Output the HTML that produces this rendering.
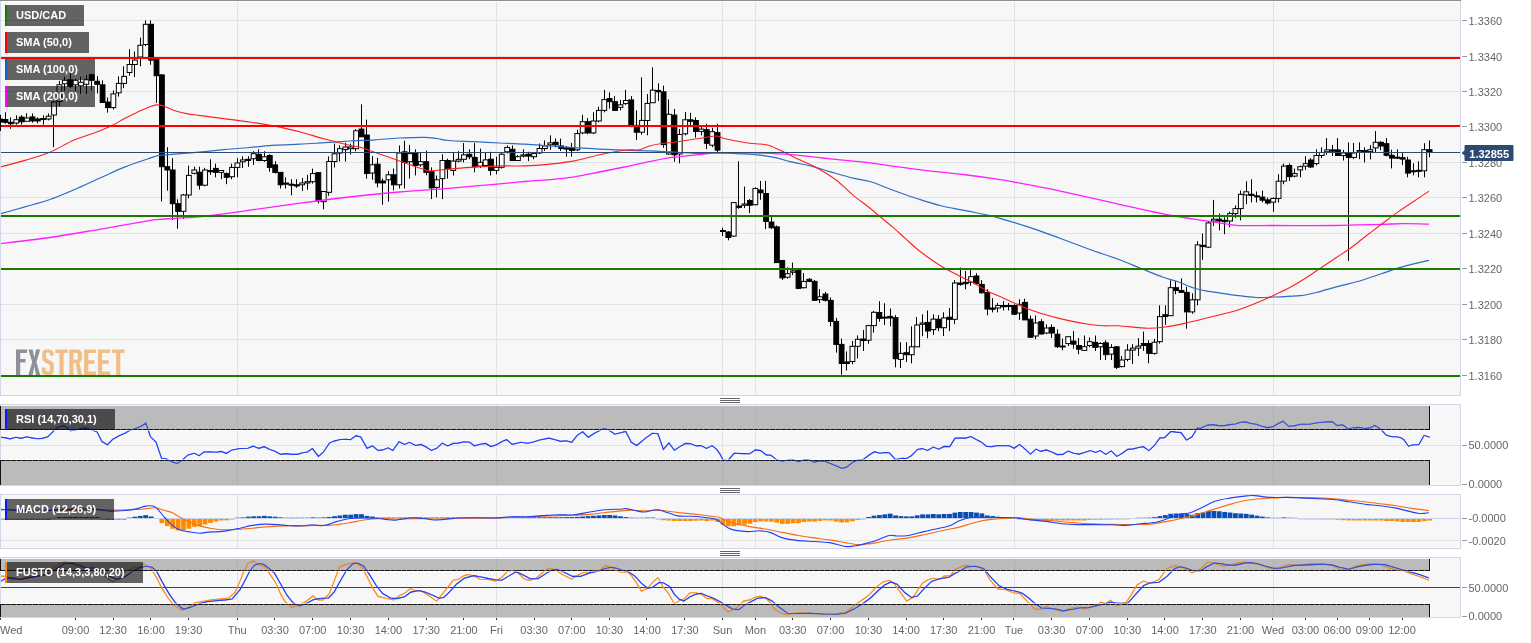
<!DOCTYPE html>
<html><head><meta charset="utf-8"><title>USD/CAD</title>
<style>
html,body{margin:0;padding:0;background:#fff;width:1531px;height:643px;overflow:hidden;}
svg{display:block;font-family:"Liberation Sans", sans-serif;will-change:transform;}
</style></head><body>
<svg width="1531" height="643" viewBox="0 0 1531 643">

<g shape-rendering="crispEdges">
<rect x="0" y="0" width="1460" height="395" fill="#f7f7f7"/>
<rect x="0" y="404" width="1460" height="81" fill="#f7f7f7"/>
<rect x="0" y="494" width="1460" height="54" fill="#f7f7f7"/>
<rect x="0" y="557" width="1460" height="60" fill="#f7f7f7"/>
<rect x="237" y="1" width="1" height="394" fill="#e2e2e2"/>
<rect x="496" y="1" width="1" height="394" fill="#e2e2e2"/>
<rect x="722" y="1" width="1" height="394" fill="#e2e2e2"/>
<rect x="755" y="1" width="1" height="394" fill="#e2e2e2"/>
<rect x="1014" y="1" width="1" height="394" fill="#e2e2e2"/>
<rect x="1273" y="1" width="1" height="394" fill="#e2e2e2"/>
<rect x="237" y="405" width="1" height="80" fill="#e2e2e2"/>
<rect x="496" y="405" width="1" height="80" fill="#e2e2e2"/>
<rect x="722" y="405" width="1" height="80" fill="#e2e2e2"/>
<rect x="755" y="405" width="1" height="80" fill="#e2e2e2"/>
<rect x="1014" y="405" width="1" height="80" fill="#e2e2e2"/>
<rect x="1273" y="405" width="1" height="80" fill="#e2e2e2"/>
<rect x="237" y="495" width="1" height="53" fill="#e2e2e2"/>
<rect x="496" y="495" width="1" height="53" fill="#e2e2e2"/>
<rect x="722" y="495" width="1" height="53" fill="#e2e2e2"/>
<rect x="755" y="495" width="1" height="53" fill="#e2e2e2"/>
<rect x="1014" y="495" width="1" height="53" fill="#e2e2e2"/>
<rect x="1273" y="495" width="1" height="53" fill="#e2e2e2"/>
<rect x="237" y="558" width="1" height="59" fill="#e2e2e2"/>
<rect x="496" y="558" width="1" height="59" fill="#e2e2e2"/>
<rect x="722" y="558" width="1" height="59" fill="#e2e2e2"/>
<rect x="755" y="558" width="1" height="59" fill="#e2e2e2"/>
<rect x="1014" y="558" width="1" height="59" fill="#e2e2e2"/>
<rect x="1273" y="558" width="1" height="59" fill="#e2e2e2"/>
<rect x="1" y="20" width="1459" height="1" fill="#e2e2e2"/>
<rect x="1462" y="20" width="5" height="1" fill="#999"/>
<text x="1468.5" y="24.5" font-size="11" fill="#666">1.3360</text>
<rect x="1" y="56" width="1459" height="1" fill="#e2e2e2"/>
<rect x="1462" y="56" width="5" height="1" fill="#999"/>
<text x="1468.5" y="60.5" font-size="11" fill="#666">1.3340</text>
<rect x="1" y="91" width="1459" height="1" fill="#e2e2e2"/>
<rect x="1462" y="91" width="5" height="1" fill="#999"/>
<text x="1468.5" y="95.5" font-size="11" fill="#666">1.3320</text>
<rect x="1" y="126" width="1459" height="1" fill="#e2e2e2"/>
<rect x="1462" y="126" width="5" height="1" fill="#999"/>
<text x="1468.5" y="130.5" font-size="11" fill="#666">1.3300</text>
<rect x="1" y="162" width="1459" height="1" fill="#e2e2e2"/>
<rect x="1462" y="162" width="5" height="1" fill="#999"/>
<text x="1468.5" y="166.5" font-size="11" fill="#666">1.3280</text>
<rect x="1" y="197" width="1459" height="1" fill="#e2e2e2"/>
<rect x="1462" y="197" width="5" height="1" fill="#999"/>
<text x="1468.5" y="201.5" font-size="11" fill="#666">1.3260</text>
<rect x="1" y="233" width="1459" height="1" fill="#e2e2e2"/>
<rect x="1462" y="233" width="5" height="1" fill="#999"/>
<text x="1468.5" y="237.5" font-size="11" fill="#666">1.3240</text>
<rect x="1" y="268" width="1459" height="1" fill="#e2e2e2"/>
<rect x="1462" y="268" width="5" height="1" fill="#999"/>
<text x="1468.5" y="272.5" font-size="11" fill="#666">1.3220</text>
<rect x="1" y="304" width="1459" height="1" fill="#e2e2e2"/>
<rect x="1462" y="304" width="5" height="1" fill="#999"/>
<text x="1468.5" y="308.5" font-size="11" fill="#666">1.3200</text>
<rect x="1" y="339" width="1459" height="1" fill="#e2e2e2"/>
<rect x="1462" y="339" width="5" height="1" fill="#999"/>
<text x="1468.5" y="343.5" font-size="11" fill="#666">1.3180</text>
<rect x="1" y="375" width="1459" height="1" fill="#e2e2e2"/>
<rect x="1462" y="375" width="5" height="1" fill="#999"/>
<text x="1468.5" y="379.5" font-size="11" fill="#666">1.3160</text>
<rect x="1" y="445" width="1459" height="1" fill="#e2e2e2"/>
<rect x="1" y="518" width="1459" height="1" fill="#c8d4e4"/>
<rect x="1" y="540" width="1459" height="1" fill="#e2e2e2"/>
<rect x="1462" y="445" width="5" height="1" fill="#999"/>
<text x="1468.5" y="448.5" font-size="11" fill="#666">50.0000</text>
<rect x="1462" y="484" width="5" height="1" fill="#999"/>
<text x="1468.5" y="487.5" font-size="11" fill="#666">0.0000</text>
<rect x="1462" y="518" width="5" height="1" fill="#999"/>
<text x="1468.5" y="521.5" font-size="11" fill="#666">-0.0000</text>
<rect x="1462" y="540" width="5" height="1" fill="#999"/>
<text x="1468.5" y="544.5" font-size="11" fill="#666">-0.0020</text>
<rect x="1462" y="587" width="5" height="1" fill="#999"/>
<text x="1468.5" y="591.5" font-size="11" fill="#666">50.0000</text>
<rect x="1462" y="616" width="5" height="1" fill="#999"/>
<text x="1468.5" y="619.5" font-size="11" fill="#666">0.0000</text>
</g>
<path d="M-0.5 115.0V130.0M5.5 112.2V123.7M10.5 117.4V128.8M16.5 115.3V124.6M21.5 115.3V124.6M26.5 113.2V121.3M32.5 113.4V122.7M37.5 117.4V123.4M43.5 115.3V124.6M48.5 113.4V120.4M53.5 101.0V147.2M59.5 80.8V106.0M64.5 76.7V90.9M70.5 73.2V87.9M75.5 78.8V91.4M80.5 76.7V93.9M86.5 75.2V93.9M91.5 74.2V90.4M97.5 76.2V93.4M102.5 80.3V102.5M107.5 97.5V112.6M113.5 90.4V109.6M118.5 76.4V96.6M123.5 66.3V88.1M129.5 49.2V75.7M134.5 51.5V77.2M140.5 37.6V66.3M145.5 20.4V46.1M150.5 20.4V64.8M156.5 59.3V102.9M161.5 74.1V201.5M167.5 147.2V190.7M172.5 158.0V220.0M177.5 199.3V228.7M183.5 193.9V218.9M188.5 165.7V198.3M194.5 166.7V174.3M199.5 166.7V189.6M204.5 167.8V186.3M210.5 159.3V174.8M215.5 163.6V177.3M221.5 170.5V179.2M226.5 172.4V184.2M231.5 163.6V179.2M237.5 158.0V177.3M242.5 156.2V168.0M248.5 156.2V166.8M253.5 151.2V164.9M258.5 149.3V161.2M264.5 151.2V161.8M269.5 154.3V171.7M275.5 161.2V173.6M280.5 172.4V188.5M285.5 177.3V188.5M291.5 179.2V195.4M296.5 179.2V187.9M302.5 178.0V191.0M307.5 174.8V189.8M312.5 168.6V183.6M318.5 172.4V203.4M323.5 191.5V209.4M328.5 156.4V195.7M334.5 143.6V167.5M339.5 145.3V161.5M345.5 142.7V161.5M350.5 143.6V154.7M355.5 129.1V151.3M361.5 104.3V136.8M366.5 119.7V178.6M372.5 156.1V179.8M377.5 158.0V187.3M382.5 178.5V204.7M388.5 171.1V201.6M393.5 168.6V190.4M399.5 145.5V188.5M404.5 140.6V188.5M409.5 144.9V178.5M415.5 149.3V175.4M420.5 153.0V166.7M426.5 150.5V175.4M431.5 167.4V199.1M436.5 175.5V197.2M442.5 154.3V199.1M447.5 158.6V178.6M453.5 153.0V175.5M458.5 151.2V162.4M463.5 143.1V162.4M469.5 149.3V159.3M474.5 143.1V172.3M480.5 148.6V168.0M485.5 153.0V166.1M490.5 151.8V175.4M496.5 156.7V174.2M501.5 152.4V168.6M507.5 145.5V153.6M512.5 145.5V161.1M517.5 155.0V161.0M523.5 149.3V157.4M528.5 151.8V161.1M533.5 152.4V159.2M539.5 143.5V154.1M544.5 140.4V151.0M550.5 135.4V149.8M555.5 138.5V147.3M560.5 138.5V151.0M566.5 146.0V156.6M571.5 142.9V156.6M577.5 129.8V151.0M582.5 114.9V134.2M587.5 118.0V134.2M593.5 112.3V134.1M598.5 106.7V122.3M604.5 89.9V112.3M609.5 92.4V108.6M614.5 96.1V110.4M620.5 99.9V110.4M625.5 89.9V104.8M631.5 96.1V127.2M636.5 110.4V140.0M641.5 77.4V134.7M647.5 94.1V135.3M652.5 67.4V102.7M658.5 83.3V101.1M663.5 85.6V147.8M668.5 99.5V154.8M674.5 108.9V161.8M679.5 129.1V163.3M685.5 112.0V135.3M690.5 112.8V126.0M695.5 117.4V137.6M701.5 125.2V135.3M706.5 123.9V149.1M712.5 127.8V147.2M717.5 123.9V152.0M722.5 227.7V236.1M728.5 231.2V240.3M733.5 202.6V236.8M738.5 161.3V208.8M744.5 186.5V208.1M749.5 199.1V213.0M755.5 187.2V205.3M760.5 180.9V199.8M765.5 180.9V229.1M771.5 215.1V229.1M776.5 225.5V262.6M782.5 259.8V280.0M787.5 267.4V278.6M792.5 262.6V275.1M798.5 268.1V289.1M803.5 273.0V288.4M809.5 278.0V282.1M814.5 280.0V301.0M819.5 289.1V303.1M825.5 291.9V301.7M830.5 297.6V326.3M836.5 317.9V352.6M841.5 338.6V374.7M846.5 351.4V370.5M852.5 340.9V364.2M857.5 335.4V358.4M863.5 330.0V351.0M868.5 324.9V343.7M873.5 310.9V332.6M879.5 301.2V321.7M884.5 303.2V325.0M890.5 308.5V326.3M895.5 315.1V367.3M900.5 342.2V368.0M906.5 342.2V362.0M911.5 326.3V363.3M916.5 317.1V346.8M922.5 314.4V336.2M927.5 310.5V338.2M933.5 314.4V334.9M938.5 315.1V331.2M943.5 312.3V336.1M949.5 308.1V331.2M954.5 280.2V324.2M960.5 267.6V285.8M965.5 271.1V289.3M970.5 269.0V285.8M976.5 273.2V284.4M981.5 280.2V293.5M987.5 289.3V315.3M992.5 298.1V312.4M997.5 303.0V312.4M1003.5 301.2V310.5M1008.5 303.0V310.5M1014.5 304.3V314.9M1019.5 299.3V319.9M1024.5 298.7V319.9M1030.5 315.5V337.3M1035.5 315.5V339.2M1041.5 319.2V334.5M1046.5 324.3V334.2M1051.5 324.3V338.0M1057.5 329.3V348.0M1062.5 338.6V350.4M1068.5 336.7V346.0M1073.5 331.1V348.6M1078.5 338.0V354.2M1084.5 335.5V351.0M1089.5 337.4V347.3M1095.5 335.5V351.0M1100.5 342.2V360.0M1105.5 340.2V360.0M1111.5 344.2V360.0M1116.5 346.1V369.0M1121.5 356.0V367.3M1127.5 344.2V361.3M1132.5 344.2V364.0M1138.5 338.2V356.0M1143.5 331.6V350.8M1148.5 340.2V363.3M1154.5 338.9V354.7M1159.5 305.4V343.6M1165.5 305.4V325.0M1170.5 280.3V315.7M1175.5 281.2V294.2M1181.5 278.4V292.4M1186.5 286.8V328.7M1192.5 293.3V313.8M1197.5 241.2V305.4M1202.5 233.5V259.8M1208.5 221.0V247.8M1213.5 199.9V226.0M1219.5 213.6V230.4M1224.5 217.3V234.1M1229.5 211.7V227.3M1235.5 205.5V217.9M1240.5 190.5V220.4M1246.5 181.2V204.2M1251.5 179.3V202.4M1256.5 191.5V202.4M1262.5 190.6V202.4M1267.5 197.4V204.6M1273.5 197.4V211.7M1278.5 174.2V202.4M1283.5 163.6V184.2M1289.5 163.6V181.1M1294.5 168.6V177.3M1300.5 165.5V177.3M1305.5 156.2V169.9M1310.5 158.0V168.0M1316.5 149.3V165.5M1321.5 147.4V158.0M1326.5 138.1V154.9M1332.5 144.9V156.1M1337.5 138.1V155.5M1343.5 149.9V160.5M1348.5 142.4V260.9M1353.5 143.0V159.2M1359.5 142.4V159.2M1364.5 147.4V162.4M1370.5 145.1V159.5M1375.5 131.1V152.1M1380.5 141.3V150.2M1386.5 138.1V156.3M1391.5 149.7V168.4M1397.5 149.3V159.1M1402.5 153.0V165.1M1407.5 156.7V177.3M1413.5 163.3V175.4M1418.5 161.4V177.3M1424.5 143.2V177.3M1429.5 140.4V157.2" stroke="#000" stroke-width="1" fill="none"/>
<g fill="#000" stroke="#000" stroke-width="1"><rect x="-2.34" y="119.0" width="4.8" height="3.0"/><rect x="3.06" y="119.5" width="4.8" height="2.8"/><rect x="8.45" y="122.3" width="4.8" height="1.4"/><rect x="19.24" y="117.1" width="4.8" height="4.7"/><rect x="30.03" y="116.9" width="4.8" height="4.0"/><rect x="35.43" y="119.0" width="4.8" height="1.9"/><rect x="40.82" y="118.5" width="4.8" height="1.0"/><rect x="67.79" y="79.8" width="4.8" height="6.5"/><rect x="89.37" y="74.7" width="4.8" height="5.6"/><rect x="94.77" y="81.3" width="4.8" height="3.0"/><rect x="100.16" y="84.8" width="4.8" height="17.7"/><rect x="105.56" y="102.0" width="4.8" height="5.6"/><rect x="148.71" y="24.3" width="4.8" height="35.8"/><rect x="154.11" y="59.3" width="4.8" height="16.4"/><rect x="159.50" y="74.9" width="4.8" height="91.8"/><rect x="164.90" y="166.7" width="4.8" height="3.3"/><rect x="170.29" y="170.0" width="4.8" height="33.7"/><rect x="175.69" y="203.7" width="4.8" height="7.6"/><rect x="197.26" y="172.2" width="4.8" height="13.0"/><rect x="208.05" y="170.5" width="4.8" height="1.2"/><rect x="213.45" y="168.4" width="4.8" height="4.0"/><rect x="224.24" y="173.6" width="4.8" height="3.7"/><rect x="245.82" y="159.3" width="4.8" height="1.2"/><rect x="256.61" y="154.3" width="4.8" height="6.2"/><rect x="267.39" y="155.5" width="4.8" height="11.9"/><rect x="272.79" y="164.9" width="4.8" height="7.5"/><rect x="278.18" y="172.4" width="4.8" height="12.4"/><rect x="283.58" y="183.0" width="4.8" height="1.2"/><rect x="288.97" y="184.2" width="4.8" height="1.0"/><rect x="294.37" y="184.8" width="4.8" height="1.2"/><rect x="315.95" y="172.6" width="4.8" height="28.3"/><rect x="359.10" y="129.1" width="4.8" height="7.7"/><rect x="364.50" y="135.0" width="4.8" height="38.5"/><rect x="375.29" y="164.2" width="4.8" height="18.7"/><rect x="380.68" y="181.0" width="4.8" height="1.9"/><rect x="391.47" y="174.8" width="4.8" height="10.0"/><rect x="402.26" y="151.8" width="4.8" height="10.6"/><rect x="413.05" y="153.0" width="4.8" height="12.5"/><rect x="423.84" y="161.7" width="4.8" height="10.6"/><rect x="429.23" y="171.7" width="4.8" height="16.2"/><rect x="445.42" y="160.5" width="4.8" height="8.1"/><rect x="466.99" y="154.3" width="4.8" height="2.5"/><rect x="472.39" y="157.4" width="4.8" height="9.3"/><rect x="488.57" y="159.2" width="4.8" height="11.2"/><rect x="510.15" y="149.3" width="4.8" height="11.2"/><rect x="526.34" y="154.2" width="4.8" height="1.9"/><rect x="553.31" y="142.3" width="4.8" height="2.5"/><rect x="558.70" y="146.0" width="4.8" height="2.5"/><rect x="564.10" y="147.9" width="4.8" height="1.2"/><rect x="569.49" y="148.5" width="4.8" height="1.9"/><rect x="585.68" y="121.7" width="4.8" height="11.2"/><rect x="607.25" y="98.6" width="4.8" height="3.1"/><rect x="612.65" y="101.7" width="4.8" height="8.7"/><rect x="628.83" y="99.9" width="4.8" height="24.9"/><rect x="634.23" y="125.4" width="4.8" height="6.8"/><rect x="655.81" y="90.4" width="4.8" height="1.4"/><rect x="661.20" y="91.8" width="4.8" height="52.8"/><rect x="671.99" y="115.1" width="4.8" height="39.7"/><rect x="688.17" y="119.8" width="4.8" height="1.5"/><rect x="693.57" y="120.5" width="4.8" height="10.9"/><rect x="704.36" y="129.7" width="4.8" height="13.6"/><rect x="715.15" y="132.6" width="4.8" height="17.5"/><rect x="720.54" y="230.5" width="4.8" height="1.0"/><rect x="725.94" y="232.0" width="4.8" height="5.5"/><rect x="736.72" y="206.0" width="4.8" height="1.4"/><rect x="747.51" y="200.5" width="4.8" height="4.8"/><rect x="758.30" y="190.0" width="4.8" height="2.8"/><rect x="763.70" y="193.5" width="4.8" height="27.9"/><rect x="769.09" y="222.1" width="4.8" height="5.6"/><rect x="774.49" y="226.9" width="4.8" height="35.7"/><rect x="779.88" y="260.5" width="4.8" height="17.4"/><rect x="796.07" y="270.2" width="4.8" height="18.2"/><rect x="806.85" y="279.3" width="4.8" height="2.1"/><rect x="812.25" y="281.4" width="4.8" height="18.9"/><rect x="823.04" y="294.0" width="4.8" height="6.3"/><rect x="828.43" y="300.4" width="4.8" height="21.0"/><rect x="833.83" y="321.4" width="4.8" height="23.0"/><rect x="839.22" y="344.4" width="4.8" height="19.1"/><rect x="844.62" y="361.9" width="4.8" height="1.6"/><rect x="860.80" y="339.0" width="4.8" height="1.5"/><rect x="876.98" y="312.5" width="4.8" height="5.9"/><rect x="882.38" y="317.1" width="4.8" height="1.0"/><rect x="887.77" y="316.4" width="4.8" height="1.6"/><rect x="893.17" y="317.7" width="4.8" height="41.0"/><rect x="903.96" y="352.7" width="4.8" height="2.0"/><rect x="925.54" y="322.4" width="4.8" height="8.6"/><rect x="936.32" y="319.3" width="4.8" height="8.4"/><rect x="947.11" y="317.2" width="4.8" height="2.1"/><rect x="957.90" y="283.0" width="4.8" height="1.4"/><rect x="963.30" y="282.3" width="4.8" height="1.4"/><rect x="974.09" y="276.0" width="4.8" height="7.7"/><rect x="979.48" y="284.4" width="4.8" height="8.4"/><rect x="984.88" y="292.6" width="4.8" height="16.4"/><rect x="990.27" y="308.0" width="4.8" height="1.3"/><rect x="1001.06" y="305.5" width="4.8" height="1.3"/><rect x="1006.45" y="305.5" width="4.8" height="1.0"/><rect x="1011.85" y="305.5" width="4.8" height="8.7"/><rect x="1022.64" y="302.4" width="4.8" height="17.5"/><rect x="1028.03" y="319.2" width="4.8" height="18.1"/><rect x="1038.82" y="321.7" width="4.8" height="12.3"/><rect x="1049.61" y="327.4" width="4.8" height="5.6"/><rect x="1055.01" y="334.2" width="4.8" height="12.5"/><rect x="1060.40" y="346.0" width="4.8" height="1.0"/><rect x="1071.19" y="341.1" width="4.8" height="3.1"/><rect x="1076.58" y="345.5" width="4.8" height="3.7"/><rect x="1092.77" y="342.3" width="4.8" height="5.0"/><rect x="1103.56" y="342.8" width="4.8" height="11.9"/><rect x="1114.35" y="346.8" width="4.8" height="20.5"/><rect x="1141.32" y="343.5" width="4.8" height="2.0"/><rect x="1146.71" y="343.5" width="4.8" height="9.9"/><rect x="1162.90" y="314.7" width="4.8" height="1.9"/><rect x="1173.69" y="287.7" width="4.8" height="2.8"/><rect x="1179.08" y="290.5" width="4.8" height="1.9"/><rect x="1184.48" y="292.4" width="4.8" height="19.5"/><rect x="1200.66" y="245.3" width="4.8" height="1.3"/><rect x="1216.84" y="219.2" width="4.8" height="1.8"/><rect x="1222.24" y="220.4" width="4.8" height="1.3"/><rect x="1249.21" y="194.3" width="4.8" height="1.2"/><rect x="1254.61" y="195.9" width="4.8" height="1.0"/><rect x="1260.00" y="197.1" width="4.8" height="3.1"/><rect x="1265.40" y="199.9" width="4.8" height="3.1"/><rect x="1286.97" y="165.5" width="4.8" height="11.2"/><rect x="1308.55" y="160.0" width="4.8" height="7.0"/><rect x="1330.13" y="149.9" width="4.8" height="1.3"/><rect x="1335.53" y="149.9" width="4.8" height="5.6"/><rect x="1346.31" y="153.6" width="4.8" height="3.8"/><rect x="1362.50" y="150.5" width="4.8" height="1.3"/><rect x="1378.68" y="142.3" width="4.8" height="3.7"/><rect x="1384.08" y="143.7" width="4.8" height="11.6"/><rect x="1389.47" y="155.3" width="4.8" height="2.8"/><rect x="1394.87" y="157.2" width="4.8" height="1.0"/><rect x="1400.26" y="157.7" width="4.8" height="1.4"/><rect x="1405.65" y="160.0" width="4.8" height="13.1"/><rect x="1411.05" y="170.8" width="4.8" height="1.0"/><rect x="1416.44" y="170.3" width="4.8" height="1.0"/><rect x="1427.23" y="149.7" width="4.8" height="1.9"/></g>
<g fill="#fff" stroke="#000" stroke-width="1"><rect x="13.85" y="119.7" width="4.8" height="3.3"/><rect x="24.64" y="118.0" width="4.8" height="3.3"/><rect x="46.22" y="116.2" width="4.8" height="2.8"/><rect x="51.61" y="102.0" width="4.8" height="13.0"/><rect x="57.01" y="84.8" width="4.8" height="16.7"/><rect x="62.40" y="80.3" width="4.8" height="3.5"/><rect x="73.19" y="80.3" width="4.8" height="4.5"/><rect x="78.58" y="82.3" width="4.8" height="3.5"/><rect x="83.98" y="79.8" width="4.8" height="4.5"/><rect x="110.95" y="93.9" width="4.8" height="13.7"/><rect x="116.35" y="83.4" width="4.8" height="9.4"/><rect x="121.74" y="76.4" width="4.8" height="7.0"/><rect x="127.13" y="64.5" width="4.8" height="8.0"/><rect x="132.53" y="60.1" width="4.8" height="4.4"/><rect x="137.92" y="45.3" width="4.8" height="11.7"/><rect x="143.32" y="24.3" width="4.8" height="20.2"/><rect x="181.08" y="195.0" width="4.8" height="16.3"/><rect x="186.48" y="175.4" width="4.8" height="19.6"/><rect x="191.87" y="170.0" width="4.8" height="3.3"/><rect x="202.66" y="170.0" width="4.8" height="15.2"/><rect x="218.84" y="170.5" width="4.8" height="1.9"/><rect x="229.63" y="167.4" width="4.8" height="9.3"/><rect x="235.03" y="163.0" width="4.8" height="4.4"/><rect x="240.42" y="159.9" width="4.8" height="1.9"/><rect x="251.21" y="153.7" width="4.8" height="5.0"/><rect x="262.00" y="156.8" width="4.8" height="3.7"/><rect x="299.76" y="183.0" width="4.8" height="1.8"/><rect x="305.16" y="181.7" width="4.8" height="1.3"/><rect x="310.55" y="173.6" width="4.8" height="8.1"/><rect x="321.34" y="191.5" width="4.8" height="10.2"/><rect x="326.74" y="161.5" width="4.8" height="30.8"/><rect x="332.13" y="153.8" width="4.8" height="7.7"/><rect x="337.52" y="148.7" width="4.8" height="4.3"/><rect x="342.92" y="147.0" width="4.8" height="2.6"/><rect x="348.31" y="147.0" width="4.8" height="1.7"/><rect x="353.71" y="130.8" width="4.8" height="17.9"/><rect x="369.89" y="164.8" width="4.8" height="8.2"/><rect x="386.08" y="174.8" width="4.8" height="5.0"/><rect x="396.86" y="153.0" width="4.8" height="31.8"/><rect x="407.65" y="153.6" width="4.8" height="8.1"/><rect x="418.44" y="161.7" width="4.8" height="3.1"/><rect x="434.63" y="179.8" width="4.8" height="7.5"/><rect x="440.02" y="160.5" width="4.8" height="18.1"/><rect x="450.81" y="161.1" width="4.8" height="9.4"/><rect x="456.21" y="159.3" width="4.8" height="1.8"/><rect x="461.60" y="154.9" width="4.8" height="4.4"/><rect x="477.78" y="162.3" width="4.8" height="3.8"/><rect x="483.18" y="159.9" width="4.8" height="5.6"/><rect x="493.97" y="167.3" width="4.8" height="3.1"/><rect x="499.36" y="154.2" width="4.8" height="13.1"/><rect x="504.76" y="147.4" width="4.8" height="4.4"/><rect x="515.55" y="156.7" width="4.8" height="3.8"/><rect x="520.94" y="154.9" width="4.8" height="1.2"/><rect x="531.73" y="153.6" width="4.8" height="3.1"/><rect x="537.12" y="148.5" width="4.8" height="4.4"/><rect x="542.52" y="146.0" width="4.8" height="2.5"/><rect x="547.91" y="142.9" width="4.8" height="1.9"/><rect x="574.89" y="133.6" width="4.8" height="16.2"/><rect x="580.28" y="121.7" width="4.8" height="11.2"/><rect x="591.07" y="121.0" width="4.8" height="11.9"/><rect x="596.47" y="110.4" width="4.8" height="10.6"/><rect x="601.86" y="99.6" width="4.8" height="10.8"/><rect x="618.04" y="104.8" width="4.8" height="2.5"/><rect x="623.44" y="100.5" width="4.8" height="3.1"/><rect x="639.62" y="120.4" width="4.8" height="11.8"/><rect x="645.02" y="103.4" width="4.8" height="17.1"/><rect x="650.41" y="90.2" width="4.8" height="12.5"/><rect x="666.59" y="114.3" width="4.8" height="39.7"/><rect x="677.38" y="134.5" width="4.8" height="19.5"/><rect x="682.78" y="119.8" width="4.8" height="14.0"/><rect x="698.96" y="129.1" width="4.8" height="2.3"/><rect x="709.75" y="131.7" width="4.8" height="13.5"/><rect x="731.33" y="202.6" width="4.8" height="33.5"/><rect x="742.12" y="204.0" width="4.8" height="1.3"/><rect x="752.91" y="188.6" width="4.8" height="16.1"/><rect x="785.28" y="273.7" width="4.8" height="3.5"/><rect x="790.67" y="270.9" width="4.8" height="1.4"/><rect x="801.46" y="281.4" width="4.8" height="6.3"/><rect x="817.64" y="296.8" width="4.8" height="2.8"/><rect x="850.01" y="346.3" width="4.8" height="15.2"/><rect x="855.41" y="339.3" width="4.8" height="7.0"/><rect x="866.20" y="325.6" width="4.8" height="14.6"/><rect x="871.59" y="312.3" width="4.8" height="13.3"/><rect x="898.56" y="353.4" width="4.8" height="6.0"/><rect x="909.35" y="346.8" width="4.8" height="7.9"/><rect x="914.75" y="325.0" width="4.8" height="21.8"/><rect x="920.14" y="323.0" width="4.8" height="1.3"/><rect x="930.93" y="319.1" width="4.8" height="10.5"/><rect x="941.72" y="317.9" width="4.8" height="9.8"/><rect x="952.51" y="283.0" width="4.8" height="36.3"/><rect x="968.69" y="276.7" width="4.8" height="5.6"/><rect x="995.67" y="305.5" width="4.8" height="2.5"/><rect x="1017.24" y="304.3" width="4.8" height="8.7"/><rect x="1033.43" y="323.0" width="4.8" height="13.0"/><rect x="1044.22" y="328.0" width="4.8" height="5.0"/><rect x="1065.80" y="336.7" width="4.8" height="6.9"/><rect x="1081.98" y="346.7" width="4.8" height="3.7"/><rect x="1087.37" y="341.7" width="4.8" height="3.8"/><rect x="1098.16" y="343.5" width="4.8" height="3.3"/><rect x="1108.95" y="347.5" width="4.8" height="6.6"/><rect x="1119.74" y="360.0" width="4.8" height="6.6"/><rect x="1125.14" y="350.1" width="4.8" height="9.3"/><rect x="1130.53" y="348.1" width="4.8" height="2.0"/><rect x="1135.92" y="346.1" width="4.8" height="2.0"/><rect x="1152.11" y="342.2" width="4.8" height="11.2"/><rect x="1157.50" y="316.6" width="4.8" height="25.1"/><rect x="1168.29" y="287.7" width="4.8" height="28.0"/><rect x="1189.87" y="299.8" width="4.8" height="12.1"/><rect x="1195.27" y="244.9" width="4.8" height="54.9"/><rect x="1206.05" y="222.9" width="4.8" height="24.3"/><rect x="1211.45" y="219.2" width="4.8" height="1.8"/><rect x="1227.63" y="213.6" width="4.8" height="7.4"/><rect x="1233.03" y="208.6" width="4.8" height="5.0"/><rect x="1238.42" y="194.3" width="4.8" height="14.3"/><rect x="1243.82" y="191.8" width="4.8" height="3.1"/><rect x="1270.79" y="198.4" width="4.8" height="3.7"/><rect x="1276.18" y="181.2" width="4.8" height="17.2"/><rect x="1281.58" y="166.1" width="4.8" height="15.0"/><rect x="1292.37" y="173.6" width="4.8" height="2.5"/><rect x="1297.76" y="166.7" width="4.8" height="3.2"/><rect x="1303.16" y="163.6" width="4.8" height="2.5"/><rect x="1313.95" y="155.5" width="4.8" height="8.1"/><rect x="1319.34" y="152.4" width="4.8" height="3.1"/><rect x="1324.74" y="149.9" width="4.8" height="1.9"/><rect x="1340.92" y="153.0" width="4.8" height="2.5"/><rect x="1351.71" y="153.0" width="4.8" height="4.4"/><rect x="1357.10" y="150.5" width="4.8" height="1.3"/><rect x="1367.89" y="149.7" width="4.8" height="1.9"/><rect x="1373.29" y="142.3" width="4.8" height="5.6"/><rect x="1421.84" y="149.7" width="4.8" height="21.1"/></g>
<path d="M0.0 243.7C8.3 242.7 33.2 239.9 49.8 237.5C66.4 235.1 82.9 232.1 99.5 229.3C116.1 226.5 139.4 222.2 149.3 220.6C159.2 218.9 150.9 220.0 159.2 219.4C167.5 218.8 188.2 217.8 199.0 216.9C209.8 216.0 215.4 215.0 223.9 213.9C232.4 212.8 237.3 211.9 250.0 210.1C262.6 208.3 283.2 205.4 299.8 203.2C316.4 201.0 332.9 198.9 349.5 197.0C366.1 195.1 382.7 193.4 399.3 192.0C415.9 190.6 432.2 189.7 449.0 188.3C465.8 186.9 487.4 184.9 500.0 183.8C512.6 182.7 516.6 182.2 524.9 181.5C533.2 180.8 541.5 180.4 549.8 179.6C558.1 178.8 566.3 178.1 574.6 176.8C582.9 175.5 591.2 173.6 599.5 172.0C607.8 170.4 616.1 168.7 624.4 167.0C632.7 165.3 641.0 163.2 649.3 161.6C657.6 160.0 665.8 158.3 674.1 157.2C682.4 156.0 692.0 155.4 699.0 154.7C706.0 154.0 709.6 153.2 716.4 152.9C723.2 152.6 732.7 152.6 740.0 152.6C747.3 152.6 751.5 152.7 760.0 153.0C768.5 153.3 780.7 153.8 791.1 154.6C801.5 155.4 811.8 156.9 822.2 158.0C832.6 159.1 845.3 160.3 853.3 161.1C861.3 161.9 859.4 161.4 870.0 162.8C880.6 164.2 901.2 167.4 916.7 169.3C932.2 171.2 949.4 172.8 963.3 174.5C977.2 176.2 989.0 177.9 1000.0 179.6C1011.0 181.3 1019.6 183.0 1029.5 184.9C1039.3 186.8 1049.2 188.7 1059.1 190.8C1068.9 192.9 1078.8 195.1 1088.6 197.3C1098.4 199.5 1108.3 201.9 1118.2 204.1C1128.1 206.3 1137.9 208.5 1147.7 210.6C1157.5 212.7 1167.5 214.8 1177.3 216.5C1187.1 218.2 1197.0 219.4 1206.8 220.9C1216.6 222.4 1224.9 224.5 1236.3 225.3C1247.7 226.1 1258.8 225.5 1275.0 225.5C1291.2 225.5 1315.8 225.7 1333.3 225.5C1350.8 225.3 1368.3 224.7 1380.0 224.4C1391.7 224.1 1395.1 223.8 1403.3 223.7C1411.5 223.6 1424.7 224.0 1429.0 224.1" fill="none" stroke="#ff20ff" stroke-width="1.3"/>
<path d="M0.0 213.9C4.1 212.7 16.6 209.3 24.9 206.9C33.2 204.5 41.5 202.4 49.8 199.5C58.1 196.6 66.3 193.0 74.6 189.5C82.9 186.0 91.2 182.0 99.5 178.3C107.8 174.6 116.1 170.4 124.4 167.1C132.7 163.8 143.5 160.3 149.3 158.4C155.1 156.5 155.1 156.1 159.2 155.4C163.3 154.7 167.5 154.7 174.1 154.2C180.7 153.7 190.7 152.9 199.0 152.2C207.3 151.4 215.4 150.5 223.9 149.7C232.4 148.9 241.5 148.2 250.0 147.5C258.5 146.8 266.6 145.8 274.9 145.2C283.2 144.6 291.5 144.6 299.8 144.2C308.1 143.8 316.3 143.2 324.6 142.7C332.9 142.2 341.2 141.5 349.5 141.0C357.8 140.5 366.1 140.3 374.4 139.8C382.7 139.3 391.0 138.4 399.3 138.0C407.6 137.6 417.9 137.2 424.1 137.3C430.3 137.4 432.5 138.0 436.6 138.5C440.8 139.0 442.8 140.0 449.0 140.5C455.2 141.0 465.4 141.3 473.9 141.7C482.4 142.1 491.5 142.6 500.0 143.0C508.5 143.4 516.6 143.7 524.9 144.2C533.2 144.7 541.5 145.4 549.8 146.0C558.1 146.6 566.3 147.2 574.6 147.7C582.9 148.2 591.2 148.8 599.5 149.2C607.8 149.6 616.1 149.9 624.4 150.2C632.7 150.5 641.0 150.6 649.3 150.9C657.6 151.2 665.8 151.8 674.1 152.2C682.4 152.6 692.0 153.3 699.0 153.4C706.0 153.5 709.6 152.8 716.4 152.9C723.2 153.0 732.7 153.4 740.0 153.8C747.3 154.2 754.1 154.5 760.0 155.2C765.9 155.8 770.3 156.6 775.5 157.7C780.7 158.8 785.1 160.5 791.1 161.9C797.1 163.3 804.8 164.5 811.3 166.1C817.8 167.7 823.0 169.7 830.0 171.7C837.0 173.7 846.6 176.6 853.3 178.2C860.0 179.8 863.3 179.5 870.0 181.5C876.7 183.5 885.5 187.5 893.3 190.3C901.1 193.1 908.9 196.0 916.7 198.5C924.5 201.0 932.2 203.6 940.0 205.5C947.8 207.4 955.5 208.6 963.3 210.2C971.1 211.8 980.6 213.5 986.7 214.8C992.8 216.2 992.9 216.2 1000.0 218.3C1007.1 220.4 1019.6 224.1 1029.5 227.4C1039.3 230.7 1049.2 234.4 1059.1 238.0C1068.9 241.6 1078.8 245.4 1088.6 249.0C1098.4 252.6 1109.3 256.0 1118.2 259.3C1127.1 262.6 1134.4 265.9 1141.8 268.8C1149.2 271.8 1156.6 274.9 1162.5 277.0C1168.4 279.1 1172.4 279.8 1177.3 281.5C1182.2 283.2 1187.1 285.8 1192.0 287.4C1196.9 289.0 1199.4 289.9 1206.8 291.2C1214.2 292.5 1228.0 294.2 1236.3 295.3C1244.5 296.4 1249.8 297.2 1256.3 297.5C1262.8 297.8 1267.6 297.3 1275.0 297.0C1282.4 296.7 1292.9 296.6 1300.5 295.7C1308.1 294.8 1314.0 293.0 1320.7 291.3C1327.5 289.6 1334.2 287.4 1341.0 285.6C1347.8 283.8 1354.5 282.5 1361.2 280.5C1367.9 278.5 1374.7 276.0 1381.4 273.8C1388.1 271.6 1393.7 269.4 1401.6 267.2C1409.5 264.9 1424.4 261.4 1429.0 260.3" fill="none" stroke="#2d6cc0" stroke-width="1.2"/>
<path d="M0.0 167.1C4.1 166.0 16.6 162.9 24.9 160.4C33.2 157.9 41.5 155.6 49.8 152.2C58.1 148.8 66.3 143.3 74.6 139.8C82.9 136.3 93.3 133.4 99.5 131.0C105.7 128.6 107.8 127.7 112.0 125.6C116.2 123.5 120.3 120.8 124.4 118.6C128.5 116.4 132.7 114.4 136.8 112.4C141.0 110.5 146.0 108.2 149.3 106.9C152.6 105.7 154.2 105.0 156.7 104.9C159.2 104.8 161.3 105.3 164.2 106.2C167.1 107.1 170.4 109.2 174.1 110.4C177.8 111.6 182.4 112.8 186.6 113.6C190.8 114.4 192.8 114.6 199.0 115.4C205.2 116.2 215.4 117.5 223.9 118.6C232.4 119.7 241.5 120.8 250.0 122.0C258.5 123.2 266.6 124.5 274.9 126.1C283.2 127.7 291.5 129.7 299.8 131.8C308.1 134.0 316.3 136.8 324.6 139.0C332.9 141.2 343.3 143.8 349.5 145.2C355.7 146.6 357.9 146.5 362.0 147.7C366.1 148.9 368.2 150.0 374.4 152.2C380.6 154.4 391.0 158.0 399.3 160.9C407.6 163.8 418.7 167.9 424.1 169.6C429.5 171.2 427.5 170.9 431.6 170.8C435.8 170.7 441.9 169.7 449.0 169.1C456.1 168.5 465.4 167.6 473.9 167.1C482.4 166.6 491.5 166.1 500.0 165.9C508.5 165.7 516.6 166.2 524.9 165.9C533.2 165.6 541.5 164.9 549.8 164.1C558.1 163.3 566.3 162.5 574.6 160.9C582.9 159.3 591.2 156.5 599.5 154.7C607.8 152.9 617.8 151.0 624.4 150.2C631.0 149.4 635.1 150.4 639.3 149.7C643.4 149.0 645.6 147.0 649.3 146.0C653.0 145.0 657.6 144.1 661.7 143.5C665.8 142.9 667.9 143.0 674.1 142.2C680.3 141.4 692.0 139.5 699.0 138.5C706.0 137.5 712.2 136.0 716.4 136.0C720.5 136.0 720.6 137.7 723.9 138.5C727.2 139.3 731.9 140.2 736.3 141.0C740.6 141.8 746.0 142.8 750.0 143.3C754.0 143.8 756.8 143.6 760.0 144.0C763.2 144.4 765.4 144.2 769.3 145.5C773.2 146.8 778.4 149.5 783.3 151.8C788.2 154.1 794.2 157.3 798.9 159.5C803.6 161.7 806.9 162.8 811.3 165.0C815.7 167.2 820.9 170.0 825.3 172.7C829.7 175.4 833.0 177.5 837.7 181.3C842.4 185.1 848.1 191.0 853.3 195.3C858.5 199.6 864.5 203.8 868.8 207.2C873.1 210.6 875.2 212.6 879.3 216.0C883.4 219.4 889.0 224.0 893.3 227.7C897.6 231.4 901.1 234.7 905.0 238.2C908.9 241.7 912.8 245.5 916.7 248.7C920.6 251.9 924.4 254.7 928.3 257.5C932.2 260.3 936.1 263.1 940.0 265.5C943.9 267.9 947.8 269.9 951.7 272.0C955.6 274.1 959.4 275.9 963.3 277.9C967.2 279.8 971.1 281.6 975.0 283.7C978.9 285.8 982.5 288.6 986.7 290.7C990.9 292.8 992.9 293.4 1000.0 296.5C1007.1 299.6 1019.6 305.9 1029.5 309.5C1039.3 313.1 1049.2 315.9 1059.1 318.4C1068.9 320.9 1081.2 323.1 1088.6 324.3C1096.0 325.5 1098.5 325.6 1103.4 325.8C1108.3 326.1 1110.8 325.4 1118.2 325.8C1125.6 326.2 1139.9 328.0 1147.7 328.2C1155.5 328.4 1158.9 327.8 1165.0 327.0C1171.1 326.2 1175.4 325.4 1184.4 323.4C1193.4 321.4 1210.0 317.2 1218.8 315.0C1227.6 312.8 1230.4 312.5 1237.3 310.2C1244.2 307.9 1254.2 303.8 1260.0 301.4C1265.8 299.0 1267.4 298.3 1272.4 295.9C1277.5 293.5 1284.9 290.1 1290.3 287.2C1295.7 284.3 1299.9 281.7 1305.0 278.5C1310.1 275.3 1315.5 271.4 1320.7 268.0C1325.9 264.6 1331.0 261.2 1336.0 257.8C1341.0 254.4 1346.0 251.4 1351.0 247.8C1356.0 244.2 1360.9 239.9 1366.0 236.0C1371.1 232.1 1377.2 227.5 1381.4 224.3C1385.7 221.1 1388.1 219.1 1391.5 216.6C1394.9 214.1 1397.7 212.2 1401.6 209.5C1405.5 206.8 1410.4 203.6 1415.0 200.5C1419.6 197.4 1426.7 192.7 1429.0 191.1" fill="none" stroke="#ff2020" stroke-width="1.1"/>
<g shape-rendering="crispEdges">
<rect x="1" y="57" width="1459" height="2" fill="#ff0000"/>
<rect x="1" y="125" width="1459" height="2" fill="#ff0000"/>
<rect x="1" y="215" width="1459" height="2" fill="#1a7a00"/>
<rect x="1" y="268" width="1459" height="2" fill="#1a7a00"/>
<rect x="1" y="375" width="1459" height="2" fill="#1a7a00"/>
<rect x="1" y="152" width="1459" height="1" fill="#2e4a70"/>
</g>
<g shape-rendering="crispEdges">
<rect x="1" y="587" width="1459" height="1" fill="#444"/>
</g>
<polyline points="0.0,437.2 4.7,437.6 10.2,438.9 15.7,437.2 21.2,438.4 26.7,436.8 31.4,437.9 37.6,438.7 42.3,438.4 47.8,436.8 52.5,432.1 57.2,427.4 63.5,425.6 67.4,427.9 70.5,430.6 75.2,430.1 80.0,428.7 85.4,427.9 90.9,429.5 97.2,432.1 101.9,441.5 107.4,444.7 112.9,439.2 119.1,435.7 125.4,432.9 130.1,430.3 134.8,428.7 141.1,426.3 145.8,423.2 150.5,436.8 156.0,442.0 161.5,458.3 166.2,458.8 172.4,461.9 177.1,463.5 181.9,460.4 188.1,454.9 194.4,453.3 199.1,455.7 203.8,452.0 210.1,451.7 216.3,452.2 221.0,451.4 226.5,453.3 232.0,449.9 240.0,448.5 247.8,448.3 253.3,446.2 258.8,448.3 264.3,446.7 269.8,449.5 274.5,451.0 280.8,454.4 285.5,453.6 291.7,454.4 297.2,454.4 302.7,452.7 307.4,452.0 312.4,448.6 318.4,456.4 323.1,452.5 329.4,443.1 334.1,441.1 340.3,439.5 346.6,439.2 350.5,439.7 356.0,435.6 360.7,437.0 367.0,448.3 372.5,445.9 378.0,450.5 382.7,449.9 388.1,447.8 392.8,450.5 399.1,441.7 404.6,444.4 409.3,442.3 415.6,445.5 421.1,444.4 426.6,447.3 431.3,450.5 436.7,448.3 442.2,443.1 447.7,445.9 453.2,443.4 457.9,443.1 464.2,441.7 469.7,442.3 474.4,445.8 480.0,444.2 485.5,443.4 491.0,446.6 496.5,444.7 502.0,441.5 506.7,439.7 512.1,444.4 520.8,442.3 527.8,443.3 533.3,442.0 539.6,440.0 549.0,438.1 555.2,439.7 560.7,441.4 566.2,440.8 571.7,442.3 577.2,435.3 582.7,431.8 588.2,437.3 594.4,433.2 603.8,428.5 608.5,429.8 614.8,434.2 625.8,431.4 631.3,442.3 636.8,445.5 646.2,437.6 652.4,433.2 657.9,433.7 663.4,449.4 668.9,442.8 674.4,450.3 679.9,446.6 685.4,443.4 690.1,443.6 696.3,445.9 701.0,445.6 706.5,448.4 712.0,445.6 716.7,449.4 720.0,454.1 722.8,459.6 727.8,460.7 734.1,453.3 743.5,453.6 749.8,453.8 755.3,449.9 760.8,450.6 766.2,454.9 771.0,455.3 776.4,459.6 781.9,461.1 787.4,460.0 792.9,459.6 798.4,461.6 804.7,459.6 809.4,459.7 814.1,462.2 818.8,461.1 824.2,461.1 829.7,463.2 836.0,465.8 841.5,468.2 846.2,467.4 853.2,461.9 858.0,459.9 862.7,459.9 868.9,455.2 874.4,451.7 879.9,453.3 884.6,452.5 889.3,452.8 895.6,459.6 901.9,458.3 906.6,458.5 911.3,455.7 917.5,449.4 922.2,448.6 927.7,450.5 933.2,447.0 938.7,449.2 944.2,446.4 949.7,446.6 955.1,438.1 960.0,438.1 965.5,438.1 971.0,436.5 975.7,439.2 981.2,441.9 986.6,446.4 992.1,446.6 997.6,445.5 1003.1,445.8 1008.6,445.5 1014.1,448.3 1019.6,444.4 1025.1,449.1 1030.5,454.1 1036.0,449.1 1040.7,451.4 1046.2,449.9 1051.7,452.0 1057.2,454.6 1062.7,454.4 1068.2,451.0 1073.7,453.3 1079.1,454.1 1084.6,452.5 1090.1,450.5 1095.6,452.5 1100.3,450.6 1105.8,454.4 1111.3,450.9 1116.8,456.4 1122.3,453.3 1127.7,449.4 1133.2,448.9 1138.7,447.5 1143.4,446.7 1148.9,450.6 1154.4,445.5 1159.9,437.9 1164.6,437.6 1170.9,431.4 1176.3,432.1 1181.0,432.6 1186.5,440.1 1192.0,436.8 1197.5,427.9 1200.0,428.5 1207.8,425.1 1213.3,424.6 1218.8,425.6 1224.3,425.6 1229.8,424.6 1235.3,424.0 1240.8,422.3 1245.5,421.9 1250.9,423.5 1256.4,424.3 1261.9,426.2 1267.4,427.6 1272.9,426.7 1278.4,423.5 1283.1,421.2 1288.6,426.3 1294.1,425.9 1300.3,424.3 1309.7,424.3 1316.0,423.0 1321.5,422.3 1327.0,421.9 1332.5,421.9 1337.2,425.6 1342.7,424.8 1348.1,429.0 1353.6,427.7 1359.1,427.4 1364.6,428.5 1370.1,427.9 1374.8,425.4 1380.3,429.0 1386.5,435.3 1392.0,436.8 1396.7,436.8 1401.4,437.9 1403.8,439.7 1408.5,446.2 1413.2,444.7 1418.7,444.7 1424.2,435.3 1429.7,437.3" fill="none" stroke="#2040f8" stroke-width="1.1"/>
<g fill="#0a4fb0"><rect x="51.61" y="517.80" width="4.8" height="0.20"/><rect x="57.01" y="517.00" width="4.8" height="1.00"/><rect x="62.40" y="517.00" width="4.8" height="1.00"/><rect x="67.79" y="517.00" width="4.8" height="1.00"/><rect x="73.19" y="517.00" width="4.8" height="1.00"/><rect x="78.58" y="517.00" width="4.8" height="1.00"/><rect x="83.98" y="517.00" width="4.8" height="1.00"/><rect x="89.37" y="517.00" width="4.8" height="1.00"/><rect x="94.77" y="517.00" width="4.8" height="1.00"/><rect x="127.13" y="517.64" width="4.8" height="0.36"/><rect x="132.53" y="516.72" width="4.8" height="1.28"/><rect x="137.92" y="515.94" width="4.8" height="2.06"/><rect x="143.32" y="515.14" width="4.8" height="2.86"/><rect x="148.71" y="516.49" width="4.8" height="1.51"/><rect x="235.03" y="517.70" width="4.8" height="0.30"/><rect x="240.42" y="517.45" width="4.8" height="0.55"/><rect x="245.82" y="516.66" width="4.8" height="1.34"/><rect x="251.21" y="516.30" width="4.8" height="1.70"/><rect x="256.61" y="516.27" width="4.8" height="1.73"/><rect x="262.00" y="515.85" width="4.8" height="2.15"/><rect x="267.39" y="516.35" width="4.8" height="1.65"/><rect x="272.79" y="516.73" width="4.8" height="1.27"/><rect x="278.18" y="517.33" width="4.8" height="0.67"/><rect x="283.58" y="517.70" width="4.8" height="0.30"/><rect x="288.97" y="517.70" width="4.8" height="0.30"/><rect x="294.37" y="517.70" width="4.8" height="0.30"/><rect x="299.76" y="517.70" width="4.8" height="0.30"/><rect x="305.16" y="517.70" width="4.8" height="0.30"/><rect x="310.55" y="517.32" width="4.8" height="0.68"/><rect x="315.95" y="517.61" width="4.8" height="0.39"/><rect x="321.34" y="517.40" width="4.8" height="0.60"/><rect x="326.74" y="516.94" width="4.8" height="1.06"/><rect x="332.13" y="516.20" width="4.8" height="1.80"/><rect x="337.52" y="515.47" width="4.8" height="2.53"/><rect x="342.92" y="514.70" width="4.8" height="3.30"/><rect x="348.31" y="514.70" width="4.8" height="3.30"/><rect x="353.71" y="514.10" width="4.8" height="3.90"/><rect x="359.10" y="514.22" width="4.8" height="3.78"/><rect x="364.50" y="515.90" width="4.8" height="2.10"/><rect x="369.89" y="516.54" width="4.8" height="1.46"/><rect x="375.29" y="517.60" width="4.8" height="0.40"/><rect x="380.68" y="517.59" width="4.8" height="0.41"/><rect x="386.08" y="517.59" width="4.8" height="0.41"/><rect x="391.47" y="517.58" width="4.8" height="0.42"/><rect x="396.86" y="517.58" width="4.8" height="0.42"/><rect x="402.26" y="517.57" width="4.8" height="0.43"/><rect x="407.65" y="517.57" width="4.8" height="0.43"/><rect x="413.05" y="517.56" width="4.8" height="0.44"/><rect x="418.44" y="517.56" width="4.8" height="0.44"/><rect x="423.84" y="517.55" width="4.8" height="0.45"/><rect x="429.23" y="517.55" width="4.8" height="0.45"/><rect x="434.63" y="517.54" width="4.8" height="0.46"/><rect x="440.02" y="517.54" width="4.8" height="0.46"/><rect x="445.42" y="517.53" width="4.8" height="0.47"/><rect x="450.81" y="517.53" width="4.8" height="0.47"/><rect x="456.21" y="517.52" width="4.8" height="0.48"/><rect x="461.60" y="517.52" width="4.8" height="0.48"/><rect x="466.99" y="517.51" width="4.8" height="0.49"/><rect x="472.39" y="517.51" width="4.8" height="0.49"/><rect x="477.78" y="517.50" width="4.8" height="0.50"/><rect x="483.18" y="517.48" width="4.8" height="0.52"/><rect x="488.57" y="517.46" width="4.8" height="0.54"/><rect x="493.97" y="517.44" width="4.8" height="0.56"/><rect x="499.36" y="517.42" width="4.8" height="0.58"/><rect x="504.76" y="517.40" width="4.8" height="0.60"/><rect x="510.15" y="517.38" width="4.8" height="0.62"/><rect x="515.55" y="517.36" width="4.8" height="0.64"/><rect x="520.94" y="517.34" width="4.8" height="0.66"/><rect x="526.34" y="517.32" width="4.8" height="0.68"/><rect x="531.73" y="517.30" width="4.8" height="0.70"/><rect x="537.12" y="517.28" width="4.8" height="0.72"/><rect x="542.52" y="517.26" width="4.8" height="0.74"/><rect x="547.91" y="517.24" width="4.8" height="0.76"/><rect x="553.31" y="517.22" width="4.8" height="0.78"/><rect x="558.70" y="517.19" width="4.8" height="0.81"/><rect x="564.10" y="517.11" width="4.8" height="0.89"/><rect x="569.49" y="517.04" width="4.8" height="0.96"/><rect x="574.89" y="516.85" width="4.8" height="1.15"/><rect x="580.28" y="516.49" width="4.8" height="1.51"/><rect x="585.68" y="516.13" width="4.8" height="1.87"/><rect x="591.07" y="515.77" width="4.8" height="2.23"/><rect x="596.47" y="515.41" width="4.8" height="2.59"/><rect x="601.86" y="515.05" width="4.8" height="2.95"/><rect x="607.25" y="515.00" width="4.8" height="3.00"/><rect x="612.65" y="515.47" width="4.8" height="2.53"/><rect x="618.04" y="516.30" width="4.8" height="1.70"/><rect x="623.44" y="517.08" width="4.8" height="0.92"/><rect x="628.83" y="517.62" width="4.8" height="0.38"/><rect x="634.23" y="517.76" width="4.8" height="0.24"/><rect x="639.62" y="517.74" width="4.8" height="0.26"/><rect x="645.02" y="517.58" width="4.8" height="0.42"/><rect x="650.41" y="517.59" width="4.8" height="0.41"/><rect x="866.20" y="516.99" width="4.8" height="1.01"/><rect x="871.59" y="515.64" width="4.8" height="2.36"/><rect x="876.98" y="515.08" width="4.8" height="2.92"/><rect x="882.38" y="514.35" width="4.8" height="3.65"/><rect x="887.77" y="513.66" width="4.8" height="4.34"/><rect x="893.17" y="515.42" width="4.8" height="2.58"/><rect x="898.56" y="516.12" width="4.8" height="1.88"/><rect x="903.96" y="516.40" width="4.8" height="1.60"/><rect x="909.35" y="516.37" width="4.8" height="1.63"/><rect x="914.75" y="515.34" width="4.8" height="2.66"/><rect x="920.14" y="514.40" width="4.8" height="3.60"/><rect x="925.54" y="514.39" width="4.8" height="3.61"/><rect x="930.93" y="514.03" width="4.8" height="3.97"/><rect x="936.32" y="514.36" width="4.8" height="3.64"/><rect x="941.72" y="514.00" width="4.8" height="4.00"/><rect x="947.11" y="513.92" width="4.8" height="4.08"/><rect x="952.51" y="512.62" width="4.8" height="5.38"/><rect x="957.90" y="512.00" width="4.8" height="6.00"/><rect x="963.30" y="512.00" width="4.8" height="6.00"/><rect x="968.69" y="512.00" width="4.8" height="6.00"/><rect x="974.09" y="512.61" width="4.8" height="5.39"/><rect x="979.48" y="513.41" width="4.8" height="4.59"/><rect x="984.88" y="515.46" width="4.8" height="2.54"/><rect x="990.27" y="516.11" width="4.8" height="1.89"/><rect x="995.67" y="516.74" width="4.8" height="1.26"/><rect x="1001.06" y="517.41" width="4.8" height="0.59"/><rect x="1006.45" y="517.47" width="4.8" height="0.53"/><rect x="1011.85" y="517.68" width="4.8" height="0.32"/><rect x="1135.92" y="517.77" width="4.8" height="0.23"/><rect x="1141.32" y="517.73" width="4.8" height="0.27"/><rect x="1146.71" y="517.61" width="4.8" height="0.39"/><rect x="1152.11" y="517.14" width="4.8" height="0.86"/><rect x="1157.50" y="516.10" width="4.8" height="1.90"/><rect x="1162.90" y="515.08" width="4.8" height="2.92"/><rect x="1168.29" y="513.78" width="4.8" height="4.22"/><rect x="1173.69" y="513.50" width="4.8" height="4.50"/><rect x="1179.08" y="513.52" width="4.8" height="4.48"/><rect x="1184.48" y="514.05" width="4.8" height="3.95"/><rect x="1189.87" y="514.76" width="4.8" height="3.24"/><rect x="1195.27" y="513.18" width="4.8" height="4.82"/><rect x="1200.66" y="512.44" width="4.8" height="5.56"/><rect x="1206.05" y="511.11" width="4.8" height="6.89"/><rect x="1211.45" y="510.91" width="4.8" height="7.09"/><rect x="1216.84" y="511.23" width="4.8" height="6.77"/><rect x="1222.24" y="511.95" width="4.8" height="6.05"/><rect x="1227.63" y="512.52" width="4.8" height="5.48"/><rect x="1233.03" y="513.21" width="4.8" height="4.79"/><rect x="1238.42" y="513.52" width="4.8" height="4.48"/><rect x="1243.82" y="513.89" width="4.8" height="4.11"/><rect x="1249.21" y="514.64" width="4.8" height="3.36"/><rect x="1254.61" y="515.67" width="4.8" height="2.33"/><rect x="1260.00" y="516.62" width="4.8" height="1.38"/><rect x="1265.40" y="517.41" width="4.8" height="0.59"/><rect x="1270.79" y="517.80" width="4.8" height="0.20"/><rect x="1276.18" y="517.76" width="4.8" height="0.24"/><rect x="1281.58" y="517.41" width="4.8" height="0.59"/><rect x="1286.97" y="517.71" width="4.8" height="0.29"/><rect x="1292.37" y="517.80" width="4.8" height="0.20"/></g>
<g fill="#ff8c00"><rect x="-2.34" y="519" width="4.8" height="1.00"/><rect x="3.06" y="519" width="4.8" height="1.00"/><rect x="8.45" y="519" width="4.8" height="1.00"/><rect x="13.85" y="519" width="4.8" height="1.00"/><rect x="19.24" y="519" width="4.8" height="1.00"/><rect x="24.64" y="519" width="4.8" height="1.00"/><rect x="30.03" y="519" width="4.8" height="1.00"/><rect x="35.43" y="519" width="4.8" height="1.00"/><rect x="40.82" y="519" width="4.8" height="1.00"/><rect x="46.22" y="519" width="4.8" height="1.00"/><rect x="100.16" y="519" width="4.8" height="0.34"/><rect x="105.56" y="519" width="4.8" height="1.00"/><rect x="110.95" y="519" width="4.8" height="1.00"/><rect x="116.35" y="519" width="4.8" height="1.00"/><rect x="121.74" y="519" width="4.8" height="1.00"/><rect x="159.50" y="519" width="4.8" height="4.12"/><rect x="164.90" y="519" width="4.8" height="7.10"/><rect x="170.29" y="519" width="4.8" height="9.77"/><rect x="175.69" y="519" width="4.8" height="11.50"/><rect x="181.08" y="519" width="4.8" height="11.47"/><rect x="186.48" y="519" width="4.8" height="9.71"/><rect x="191.87" y="519" width="4.8" height="7.84"/><rect x="197.26" y="519" width="4.8" height="6.98"/><rect x="202.66" y="519" width="4.8" height="5.45"/><rect x="208.05" y="519" width="4.8" height="3.89"/><rect x="213.45" y="519" width="4.8" height="2.59"/><rect x="218.84" y="519" width="4.8" height="1.49"/><rect x="224.24" y="519" width="4.8" height="1.31"/><rect x="229.63" y="519" width="4.8" height="0.50"/><rect x="655.81" y="519" width="4.8" height="0.42"/><rect x="661.20" y="519" width="4.8" height="1.24"/><rect x="666.59" y="519" width="4.8" height="1.60"/><rect x="671.99" y="519" width="4.8" height="1.96"/><rect x="677.38" y="519" width="4.8" height="2.00"/><rect x="682.78" y="519" width="4.8" height="2.00"/><rect x="688.17" y="519" width="4.8" height="1.98"/><rect x="693.57" y="519" width="4.8" height="1.74"/><rect x="698.96" y="519" width="4.8" height="1.51"/><rect x="704.36" y="519" width="4.8" height="2.00"/><rect x="709.75" y="519" width="4.8" height="1.53"/><rect x="715.15" y="519" width="4.8" height="2.88"/><rect x="720.54" y="519" width="4.8" height="5.84"/><rect x="725.94" y="519" width="4.8" height="7.30"/><rect x="731.33" y="519" width="4.8" height="7.24"/><rect x="736.72" y="519" width="4.8" height="6.28"/><rect x="742.12" y="519" width="4.8" height="5.68"/><rect x="747.51" y="519" width="4.8" height="4.70"/><rect x="752.91" y="519" width="4.8" height="3.09"/><rect x="758.30" y="519" width="4.8" height="2.40"/><rect x="763.70" y="519" width="4.8" height="2.41"/><rect x="769.09" y="519" width="4.8" height="2.68"/><rect x="774.49" y="519" width="4.8" height="3.72"/><rect x="779.88" y="519" width="4.8" height="4.90"/><rect x="785.28" y="519" width="4.8" height="4.85"/><rect x="790.67" y="519" width="4.8" height="4.20"/><rect x="796.07" y="519" width="4.8" height="4.14"/><rect x="801.46" y="519" width="4.8" height="3.06"/><rect x="806.85" y="519" width="4.8" height="2.60"/><rect x="812.25" y="519" width="4.8" height="2.57"/><rect x="817.64" y="519" width="4.8" height="1.95"/><rect x="823.04" y="519" width="4.8" height="1.41"/><rect x="828.43" y="519" width="4.8" height="1.55"/><rect x="833.83" y="519" width="4.8" height="2.66"/><rect x="839.22" y="519" width="4.8" height="3.40"/><rect x="844.62" y="519" width="4.8" height="3.36"/><rect x="850.01" y="519" width="4.8" height="2.29"/><rect x="855.41" y="519" width="4.8" height="0.96"/><rect x="860.80" y="519" width="4.8" height="0.45"/><rect x="1017.24" y="519" width="4.8" height="0.38"/><rect x="1022.64" y="519" width="4.8" height="0.98"/><rect x="1028.03" y="519" width="4.8" height="1.29"/><rect x="1033.43" y="519" width="4.8" height="1.50"/><rect x="1038.82" y="519" width="4.8" height="1.50"/><rect x="1044.22" y="519" width="4.8" height="1.50"/><rect x="1049.61" y="519" width="4.8" height="1.50"/><rect x="1055.01" y="519" width="4.8" height="1.50"/><rect x="1060.40" y="519" width="4.8" height="1.50"/><rect x="1065.80" y="519" width="4.8" height="1.50"/><rect x="1071.19" y="519" width="4.8" height="1.50"/><rect x="1076.58" y="519" width="4.8" height="1.50"/><rect x="1081.98" y="519" width="4.8" height="1.50"/><rect x="1087.37" y="519" width="4.8" height="0.84"/><rect x="1092.77" y="519" width="4.8" height="0.74"/><rect x="1098.16" y="519" width="4.8" height="0.67"/><rect x="1103.56" y="519" width="4.8" height="0.60"/><rect x="1108.95" y="519" width="4.8" height="0.53"/><rect x="1114.35" y="519" width="4.8" height="0.47"/><rect x="1119.74" y="519" width="4.8" height="0.40"/><rect x="1125.14" y="519" width="4.8" height="0.33"/><rect x="1297.76" y="519" width="4.8" height="0.30"/><rect x="1303.16" y="519" width="4.8" height="0.33"/><rect x="1308.55" y="519" width="4.8" height="0.36"/><rect x="1313.95" y="519" width="4.8" height="0.39"/><rect x="1319.34" y="519" width="4.8" height="0.42"/><rect x="1324.74" y="519" width="4.8" height="0.46"/><rect x="1330.13" y="519" width="4.8" height="0.49"/><rect x="1335.53" y="519" width="4.8" height="0.79"/><rect x="1340.92" y="519" width="4.8" height="1.17"/><rect x="1346.31" y="519" width="4.8" height="1.44"/><rect x="1351.71" y="519" width="4.8" height="1.50"/><rect x="1357.10" y="519" width="4.8" height="1.50"/><rect x="1362.50" y="519" width="4.8" height="1.50"/><rect x="1367.89" y="519" width="4.8" height="1.50"/><rect x="1373.29" y="519" width="4.8" height="1.50"/><rect x="1378.68" y="519" width="4.8" height="1.61"/><rect x="1384.08" y="519" width="4.8" height="2.00"/><rect x="1389.47" y="519" width="4.8" height="2.00"/><rect x="1394.87" y="519" width="4.8" height="2.45"/><rect x="1400.26" y="519" width="4.8" height="3.00"/><rect x="1405.65" y="519" width="4.8" height="3.00"/><rect x="1411.05" y="519" width="4.8" height="3.00"/><rect x="1416.44" y="519" width="4.8" height="3.00"/><rect x="1421.84" y="519" width="4.8" height="2.15"/><rect x="1427.23" y="519" width="4.8" height="1.54"/></g>
<path d="M0.0 509.2C2.6 509.3 10.5 509.6 15.7 509.7C20.9 509.8 26.2 509.9 31.4 510.0C36.6 510.1 41.8 510.1 47.0 510.1C52.2 510.1 57.5 510.1 62.7 510.1C67.9 510.1 73.2 510.2 78.4 510.1C83.6 510.0 88.9 509.7 94.1 509.7C99.3 509.7 104.5 510.1 109.7 510.1C114.9 510.1 120.2 509.9 125.4 509.7C130.6 509.5 136.1 509.5 141.1 509.2C146.1 508.9 151.3 507.6 155.2 507.8C159.1 508.0 161.7 509.7 164.6 510.5C167.5 511.3 169.8 511.6 172.4 512.8C175.0 514.0 177.7 516.1 180.3 517.5C182.9 518.9 184.7 520.0 188.1 521.4C191.5 522.8 196.8 524.9 200.7 526.1C204.6 527.3 207.9 527.9 211.6 528.5C215.2 529.1 219.2 529.5 222.6 529.7C226.0 529.9 229.1 529.8 232.0 529.7C234.9 529.6 236.6 529.5 240.0 529.2C243.4 529.0 248.3 528.6 252.5 528.2C256.7 527.8 260.9 527.2 265.1 526.9C269.3 526.5 273.4 526.3 277.6 526.1C281.8 525.9 286.0 525.8 290.2 525.8C294.4 525.8 298.5 526.1 302.7 526.0C306.9 525.9 311.0 525.5 315.2 525.4C319.4 525.3 324.1 525.5 327.8 525.4C331.5 525.3 333.6 525.0 337.2 524.6C340.8 524.2 345.0 523.6 349.7 522.8C354.4 522.0 360.9 520.5 365.4 519.8C369.8 519.1 373.0 518.8 376.4 518.6C379.8 518.4 382.4 518.5 385.8 518.6C389.2 518.7 392.4 519.2 396.8 519.2C401.2 519.2 407.2 518.7 412.4 518.6C417.6 518.5 424.2 518.7 428.1 518.8C432.0 518.9 433.3 519.0 435.9 519.1C438.5 519.2 439.9 519.2 443.8 519.1C447.7 519.0 453.5 518.4 459.5 518.3C465.5 518.2 474.0 518.3 480.0 518.3C486.0 518.2 490.5 518.2 495.7 518.0C500.9 517.8 506.2 517.4 511.4 517.2C516.6 517.0 521.8 516.9 527.0 516.7C532.2 516.6 537.5 516.5 542.7 516.3C547.9 516.1 553.2 515.8 558.4 515.6C563.6 515.4 568.9 515.4 574.1 515.2C579.3 515.0 584.5 514.9 589.7 514.4C594.9 513.9 600.2 513.1 605.4 512.5C610.6 511.9 616.9 511.3 621.1 510.9C625.3 510.5 627.9 510.2 630.5 510.1C633.1 510.0 634.4 510.4 636.8 510.5C639.1 510.6 641.2 511.0 644.6 510.9C648.0 510.8 653.2 510.1 657.1 510.1C661.0 510.2 663.7 510.7 668.1 511.2C672.5 511.7 678.6 512.5 683.8 513.1C689.0 513.7 694.3 514.1 699.5 514.7C704.7 515.3 711.7 516.2 715.1 516.7C718.5 517.2 717.9 516.7 720.0 517.5C722.1 518.3 725.2 520.4 727.8 521.4C730.4 522.4 731.8 522.9 735.7 523.8C739.6 524.7 746.2 526.0 751.4 526.9C756.6 527.8 761.8 528.4 767.0 529.3C772.2 530.2 777.5 531.4 782.7 532.4C787.9 533.4 793.2 534.6 798.4 535.5C803.6 536.4 808.9 537.2 814.1 537.9C819.3 538.6 824.5 539.1 829.7 539.9C834.9 540.7 840.7 541.8 845.4 542.6C850.1 543.4 854.1 544.3 858.0 544.5C861.9 544.7 865.8 544.2 868.9 543.9C872.0 543.6 872.9 543.3 876.8 542.6C880.7 541.9 887.2 540.6 892.4 539.8C897.6 539.0 902.9 538.7 908.1 537.9C913.3 537.1 918.6 535.9 923.8 534.8C929.0 533.7 935.3 532.2 939.5 531.3C943.7 530.4 945.5 530.0 948.9 529.3C952.3 528.6 955.5 528.1 960.0 526.9C964.5 525.7 970.5 523.5 975.7 522.2C980.9 521.0 986.2 520.0 991.4 519.4C996.6 518.8 1002.3 518.6 1007.0 518.3C1011.7 518.0 1015.7 517.7 1019.6 517.8C1023.5 517.9 1026.1 518.7 1030.5 519.1C1034.9 519.5 1041.0 519.9 1046.2 520.3C1051.4 520.7 1056.7 521.2 1061.9 521.7C1067.1 522.2 1072.4 522.6 1077.6 523.0C1082.8 523.4 1088.0 523.6 1093.2 523.8C1098.4 524.0 1103.7 524.2 1108.9 524.3C1114.1 524.4 1119.4 524.6 1124.6 524.6C1129.8 524.6 1136.1 524.3 1140.3 524.3C1144.5 524.2 1145.8 524.8 1150.0 524.3C1154.2 523.8 1160.5 522.6 1165.7 521.6C1170.9 520.6 1176.1 519.7 1181.3 518.5C1186.5 517.3 1191.8 516.1 1197.0 514.6C1202.2 513.1 1207.5 511.2 1212.7 509.6C1217.9 508.0 1223.2 506.4 1228.4 504.9C1233.6 503.4 1238.8 501.7 1244.0 500.7C1249.2 499.7 1254.5 499.2 1259.7 498.7C1264.9 498.2 1271.0 498.1 1275.4 497.9C1279.8 497.7 1281.8 497.4 1286.2 497.4C1290.6 497.3 1296.7 497.5 1301.9 497.6C1307.1 497.7 1312.4 497.7 1317.6 497.9C1322.8 498.1 1328.0 498.3 1333.2 498.7C1338.4 499.1 1343.7 499.8 1348.9 500.3C1354.1 500.8 1359.4 501.2 1364.6 501.8C1369.8 502.4 1375.1 503.0 1380.3 503.7C1385.5 504.4 1390.7 505.0 1395.9 505.8C1401.1 506.6 1406.1 507.6 1411.6 508.4C1417.1 509.2 1426.0 510.1 1428.9 510.5" fill="none" stroke="#ff6a10" stroke-width="1.1"/>
<path d="M0.0 509.7C1.1 509.7 3.7 509.6 6.3 509.7C8.9 509.8 11.5 510.2 15.7 510.5C19.9 510.8 26.2 511.2 31.4 511.2C36.6 511.2 41.8 510.8 47.0 510.5C52.2 510.2 57.5 510.0 62.7 509.7C67.9 509.4 73.2 509.0 78.4 508.9C83.6 508.8 88.9 508.5 94.1 508.9C99.3 509.3 104.5 510.9 109.7 511.2C114.9 511.5 121.0 510.9 125.4 510.5C129.8 510.1 133.0 509.6 136.4 508.9C139.8 508.2 142.7 506.4 145.8 506.1C148.9 505.8 152.1 505.0 155.2 506.9C158.3 508.8 161.7 514.4 164.6 517.5C167.5 520.6 169.8 523.3 172.4 525.4C175.0 527.5 177.7 529.1 180.3 530.1C182.9 531.1 185.0 531.1 188.1 531.6C191.2 532.1 195.7 533.1 199.1 533.2C202.5 533.3 205.1 532.4 208.5 532.1C211.9 531.8 216.1 531.9 219.5 531.6C222.9 531.3 225.5 531.0 228.9 530.4C232.3 529.8 236.1 529.0 240.0 528.2C243.9 527.4 248.3 526.1 252.5 525.4C256.7 524.7 260.9 524.2 265.1 524.1C269.3 524.0 273.4 524.3 277.6 524.6C281.8 524.9 286.0 525.5 290.2 525.7C294.4 525.9 299.0 526.0 302.7 525.8C306.4 525.6 309.0 524.7 312.1 524.7C315.2 524.7 318.9 525.8 321.5 525.8C324.1 525.8 325.2 525.3 327.8 524.6C330.4 523.9 333.6 522.4 337.2 521.4C340.8 520.4 345.0 519.1 349.7 518.5C354.4 517.9 360.9 518.0 365.4 518.0C369.8 518.0 373.0 518.1 376.4 518.3C379.8 518.5 382.9 519.1 385.8 519.4C388.7 519.7 391.0 520.3 393.6 520.3C396.2 520.2 398.4 519.5 401.5 519.1C404.6 518.7 409.0 517.9 412.4 517.8C415.8 517.7 419.2 518.1 421.8 518.3C424.4 518.5 425.8 518.8 428.1 519.1C430.5 519.4 433.3 520.0 435.9 520.0C438.5 520.0 439.9 519.7 443.8 519.4C447.7 519.1 453.5 518.3 459.5 518.0C465.5 517.7 474.0 517.8 480.0 517.8C486.0 517.8 490.5 518.2 495.7 518.0C500.9 517.8 506.2 516.9 511.4 516.7C516.6 516.5 521.8 516.9 527.0 516.7C532.2 516.5 537.5 515.9 542.7 515.6C547.9 515.3 553.2 514.9 558.4 514.8C563.6 514.7 568.9 515.3 574.1 514.8C579.3 514.3 584.5 512.9 589.7 512.0C594.9 511.1 600.2 510.2 605.4 509.7C610.6 509.2 617.7 509.4 621.1 509.2C624.5 509.0 623.2 508.3 625.8 508.6C628.4 508.9 633.7 510.3 636.8 510.9C639.9 511.5 641.2 512.2 644.6 512.0C648.0 511.8 653.2 509.6 657.1 509.7C661.0 509.8 664.7 511.8 668.1 512.8C671.5 513.8 673.6 515.3 677.5 515.9C681.4 516.5 686.6 516.0 691.6 516.3C696.6 516.6 703.4 517.3 707.3 517.8C711.2 518.3 713.0 518.4 715.1 519.1C717.2 519.8 717.9 520.5 720.0 521.9C722.1 523.3 725.2 526.3 727.8 527.7C730.4 529.1 732.3 529.8 735.7 530.4C739.1 531.0 744.3 531.5 748.2 531.6C752.1 531.7 755.5 530.7 759.2 530.8C762.9 530.9 766.3 531.2 770.2 532.4C774.1 533.6 778.0 536.5 782.7 537.9C787.4 539.3 793.2 540.0 798.4 540.6C803.6 541.2 808.9 541.2 814.1 541.5C819.3 541.8 824.5 541.8 829.7 542.6C834.9 543.4 840.7 546.0 845.4 546.5C850.1 547.0 854.1 546.0 858.0 545.4C861.9 544.8 865.8 543.5 868.9 542.6C872.0 541.7 873.4 541.4 876.8 540.2C880.2 539.0 885.9 536.2 889.3 535.5C892.7 534.8 894.0 536.0 897.1 536.0C900.2 536.0 903.7 536.2 908.1 535.5C912.5 534.8 918.6 532.8 923.8 531.6C929.0 530.4 935.3 529.1 939.5 528.2C943.7 527.3 945.5 527.4 948.9 526.1C952.3 524.8 956.3 522.0 960.0 520.6C963.7 519.2 967.1 518.0 971.0 517.5C974.9 517.0 978.8 517.5 983.5 517.5C988.2 517.5 994.0 517.5 999.2 517.5C1004.4 517.5 1009.7 517.4 1014.9 517.8C1020.1 518.2 1025.3 519.3 1030.5 519.9C1035.7 520.5 1041.0 520.8 1046.2 521.4C1051.4 522.0 1056.7 523.3 1061.9 523.8C1067.1 524.3 1072.4 524.5 1077.6 524.6C1082.8 524.7 1088.0 524.6 1093.2 524.6C1098.4 524.6 1103.7 524.6 1108.9 524.7C1114.1 524.8 1119.4 525.5 1124.6 525.4C1129.8 525.2 1135.1 524.3 1140.3 523.8C1145.5 523.3 1151.3 523.1 1156.0 522.2C1160.7 521.3 1164.6 519.6 1168.5 518.3C1172.4 517.0 1175.8 515.3 1179.5 514.4C1183.2 513.5 1187.0 513.8 1190.4 512.8C1193.8 511.8 1195.8 510.4 1200.0 508.5C1204.2 506.6 1210.5 502.9 1215.7 501.1C1220.9 499.3 1226.2 498.8 1231.4 497.9C1236.6 497.0 1243.1 496.3 1247.0 495.9C1250.9 495.5 1251.0 495.4 1254.9 495.6C1258.8 495.9 1265.3 497.1 1270.5 497.4C1275.7 497.7 1281.0 497.3 1286.2 497.4C1291.4 497.5 1296.7 497.7 1301.9 497.9C1307.1 498.1 1312.4 498.4 1317.6 498.7C1322.8 499.0 1328.0 499.0 1333.2 499.5C1338.4 500.0 1343.7 501.0 1348.9 501.8C1354.1 502.6 1359.4 503.5 1364.6 504.2C1369.8 504.9 1375.1 505.1 1380.3 505.8C1385.5 506.5 1389.6 506.9 1395.9 508.1C1402.2 509.4 1412.4 512.5 1417.9 513.3C1423.4 514.1 1427.1 512.9 1428.9 512.8" fill="none" stroke="#2040f8" stroke-width="1.1"/>
<polyline points="0.0,576.1 6.3,576.4 12.5,579.5 20.4,578.7 25.1,577.2 31.4,575.9 37.6,575.6 45.5,574.8 51.7,569.3 58.0,564.6 64.3,561.5 70.5,563.8 78.4,567.0 86.2,567.8 92.5,567.0 98.8,570.1 106.6,577.9 112.9,581.9 119.1,577.9 125.4,571.7 133.2,567.8 139.5,567.0 144.2,563.8 150.5,567.8 156.8,577.9 161.5,587.4 167.7,597.5 174.0,605.4 181.9,610.1 188.1,607.7 194.4,603.0 202.2,601.5 211.6,599.9 219.5,599.1 228.9,598.0 235.1,592.1 240.0,581.1 243.1,573.2 247.8,563.8 253.3,561.0 258.8,564.6 265.1,567.0 271.4,576.4 276.1,583.4 280.8,594.4 285.5,602.2 291.7,607.4 298.0,605.4 305.8,601.5 312.9,596.0 318.4,599.9 323.1,599.9 329.4,593.6 334.1,581.1 339.5,567.0 346.6,564.2 356.0,562.6 362.3,567.8 368.5,579.5 373.2,588.9 378.0,596.4 385.8,598.3 393.6,599.9 399.9,595.2 404.6,593.3 410.1,588.6 415.6,590.8 421.9,591.3 428.1,595.2 436.7,601.1 443.8,592.1 453.2,580.3 457.9,579.5 464.2,575.6 468.9,574.5 475.1,576.4 480.0,579.2 487.8,579.5 495.7,581.1 501.9,577.2 507.4,571.4 512.9,570.6 517.6,572.5 523.9,578.7 529.4,580.3 536.4,577.9 542.7,572.5 549.0,568.2 555.2,569.8 561.5,574.0 571.7,579.2 577.2,575.6 583.5,572.5 592.9,571.2 599.1,570.6 605.4,565.7 610.1,566.7 614.8,570.1 621.1,572.1 627.4,571.7 632.1,576.4 636.8,583.4 641.5,591.3 647.7,588.1 652.4,582.7 657.9,577.6 663.4,587.4 668.1,592.8 674.4,603.8 680.7,599.9 683.8,599.1 690.1,592.8 696.3,592.8 701.0,594.4 707.3,598.6 712.0,598.6 720.0,603.8 727.8,612.1 734.1,609.3 738.8,606.2 743.5,601.1 749.8,599.9 754.5,597.5 760.0,596.0 765.5,598.3 770.2,602.2 774.9,609.3 781.1,613.2 787.4,614.8 793.7,613.2 803.1,612.7 814.1,613.7 826.6,614.3 836.0,614.0 847.0,611.7 854.8,604.6 861.1,600.7 868.9,595.2 876.8,586.6 883.0,581.9 889.3,580.3 894.0,583.4 900.3,592.1 906.6,601.1 912.8,597.5 922.2,583.4 926.9,580.3 933.2,578.3 939.5,579.5 944.2,576.1 950.4,575.6 955.1,569.3 960.0,567.3 964.7,565.4 972.5,566.2 978.8,567.0 983.5,569.3 989.8,579.5 997.6,588.9 1005.5,589.7 1013.3,592.8 1019.6,593.3 1025.8,599.9 1035.2,609.3 1041.5,609.3 1046.2,606.5 1054.1,609.3 1061.9,611.7 1069.7,608.5 1077.6,607.0 1083.8,609.0 1091.7,606.5 1096.4,605.4 1101.1,602.2 1105.8,603.8 1110.5,600.2 1116.8,605.9 1126.2,602.2 1130.9,595.2 1137.1,585.0 1143.4,581.1 1149.7,583.4 1159.1,579.5 1166.9,568.5 1174.8,565.7 1179.5,566.2 1185.7,569.3 1192.0,572.9 1200.0,569.3 1207.8,562.0 1215.7,563.8 1223.5,566.2 1231.4,564.6 1239.2,562.6 1247.0,562.3 1254.9,563.8 1262.7,565.7 1270.5,568.5 1276.8,569.3 1283.1,566.2 1289.4,564.6 1297.2,565.7 1309.7,563.5 1320.7,563.5 1331.7,565.1 1339.5,569.3 1347.4,569.8 1355.2,566.2 1363.0,564.6 1372.4,563.8 1380.3,564.6 1388.1,567.8 1396.0,569.8 1403.8,570.9 1411.6,574.0 1419.5,576.4 1428.9,580.3" fill="none" stroke="#ff8c1a" stroke-width="1.1"/>
<polyline points="0.0,581.9 6.3,577.9 12.5,577.9 20.4,579.5 28.2,577.9 36.1,576.4 45.5,574.8 51.7,572.5 58.0,567.8 64.3,563.8 72.1,563.1 80.0,565.4 87.8,568.5 94.1,567.8 101.9,571.7 109.7,576.4 117.6,579.5 125.4,576.4 133.2,570.9 139.5,567.8 145.8,566.2 152.1,567.3 156.8,571.7 163.0,583.4 169.4,594.4 175.7,603.0 183.4,609.3 191.3,606.9 199.1,603.8 206.9,601.8 216.3,600.7 225.7,599.9 232.0,599.1 240.0,589.7 244.7,581.1 249.4,571.7 254.1,565.4 258.8,563.5 263.5,564.3 268.2,567.8 274.5,573.2 280.8,584.2 287.0,595.2 293.3,603.0 299.6,605.9 305.8,603.8 313.7,599.6 321.5,598.3 328.6,598.0 334.1,592.1 340.3,581.1 346.6,570.1 352.9,563.8 357.6,563.1 363.8,566.2 370.1,575.6 376.4,585.8 382.7,593.6 390.5,598.0 396.8,598.6 404.6,596.8 410.9,592.1 418.7,590.5 425.0,592.1 432.8,595.2 439.1,598.3 443.8,597.5 450.1,591.3 456.4,584.2 464.2,578.3 473.6,575.6 480.0,576.7 487.8,578.4 495.7,579.8 501.9,580.3 508.2,576.4 516.1,571.7 522.3,574.5 530.2,578.7 538.0,578.7 545.8,573.6 552.1,570.1 556.8,569.3 564.7,572.5 572.5,576.4 580.3,576.4 589.7,572.9 599.1,570.9 605.4,568.5 611.7,567.3 616.4,568.2 622.7,570.4 628.9,572.0 635.2,576.4 641.5,583.4 647.7,588.1 652.4,587.4 658.7,582.7 663.4,582.7 669.7,586.6 674.4,594.4 679.1,599.1 683.8,601.1 690.1,596.8 696.3,594.1 701.0,593.3 707.3,596.0 713.6,598.3 720.0,601.8 724.7,604.6 732.5,609.0 738.8,609.6 745.1,604.6 751.4,601.5 757.6,598.3 765.5,597.5 771.7,600.7 778.0,606.2 787.4,613.2 798.4,613.5 810.9,613.2 823.5,614.0 836.0,614.3 845.4,613.2 854.8,608.5 862.7,603.8 870.5,598.0 878.3,590.5 884.6,585.0 890.9,581.9 897.1,584.2 905.0,592.8 911.3,597.5 917.5,596.0 923.8,588.9 931.6,581.4 939.5,578.7 948.9,577.2 955.1,573.2 960.0,570.9 966.3,567.0 975.7,566.2 983.5,568.5 991.4,577.9 999.2,585.8 1007.0,589.2 1018.0,591.7 1022.7,593.6 1029.0,598.3 1035.2,603.8 1041.5,608.0 1050.9,608.5 1057.2,609.3 1063.4,610.9 1072.9,609.3 1080.7,607.7 1088.5,607.7 1094.8,606.2 1101.1,604.6 1110.5,602.2 1118.3,603.3 1127.7,603.3 1135.6,594.4 1143.4,585.8 1149.7,583.0 1159.1,582.3 1166.9,576.4 1174.8,568.5 1181.0,566.7 1187.3,568.5 1193.6,570.9 1200.0,571.2 1206.3,567.0 1214.1,563.1 1220.4,563.5 1228.2,565.1 1236.1,565.1 1243.9,563.1 1250.2,562.6 1258.0,563.8 1265.8,566.2 1273.7,568.2 1279.9,568.2 1287.8,566.7 1294.1,565.4 1303.5,565.1 1312.9,564.6 1322.3,564.2 1331.7,564.9 1339.5,567.3 1348.9,569.3 1356.8,567.0 1366.2,565.1 1375.6,564.2 1385.0,564.6 1392.8,567.0 1402.2,569.8 1408.5,571.4 1419.5,574.5 1428.9,577.9" fill="none" stroke="#2040f8" stroke-width="1.1"/>
<g shape-rendering="crispEdges">
<rect x="0" y="406" width="1430" height="24" fill="rgba(128,128,128,0.5)"/><rect x="0" y="406" width="1" height="24" fill="#111"/><rect x="1429" y="406" width="1" height="24" fill="#111"/><rect x="1430" y="406" width="1" height="24" fill="#fff"/><rect x="1" y="430" width="1430" height="1" fill="#fff"/><line x1="0" y1="429.5" x2="1430" y2="429.5" stroke="#111" stroke-width="1" stroke-dasharray="5,0.5" shape-rendering="auto"/>
<rect x="0" y="460" width="1430" height="25" fill="rgba(128,128,128,0.5)"/><rect x="0" y="460" width="1" height="25" fill="#111"/><rect x="1429" y="460" width="1" height="25" fill="#111"/><rect x="1430" y="460" width="1" height="25" fill="#fff"/><rect x="1" y="459" width="1430" height="1" fill="#fff"/><line x1="0" y1="460.5" x2="1430" y2="460.5" stroke="#111" stroke-width="1" stroke-dasharray="5,0.5" shape-rendering="auto"/>
<rect x="0" y="559" width="1430" height="12" fill="rgba(128,128,128,0.5)"/><rect x="0" y="559" width="1" height="12" fill="#111"/><rect x="1429" y="559" width="1" height="12" fill="#111"/><rect x="1430" y="559" width="1" height="12" fill="#fff"/><rect x="1" y="571" width="1430" height="1" fill="#fff"/><line x1="0" y1="570.5" x2="1430" y2="570.5" stroke="#111" stroke-width="1" stroke-dasharray="5,0.5" shape-rendering="auto"/>
<rect x="0" y="604" width="1430" height="13" fill="rgba(128,128,128,0.5)"/><rect x="0" y="604" width="1" height="13" fill="#111"/><rect x="1429" y="604" width="1" height="13" fill="#111"/><rect x="1430" y="604" width="1" height="13" fill="#fff"/><rect x="1" y="603" width="1430" height="1" fill="#fff"/><line x1="0" y1="604.5" x2="1430" y2="604.5" stroke="#111" stroke-width="1" stroke-dasharray="5,0.5" shape-rendering="auto"/>
</g>
<g opacity="0.55">
<polyline points="0.0,437.2 4.7,437.6 10.2,438.9 15.7,437.2 21.2,438.4 26.7,436.8 31.4,437.9 37.6,438.7 42.3,438.4 47.8,436.8 52.5,432.1 57.2,427.4 63.5,425.6 67.4,427.9 70.5,430.6 75.2,430.1 80.0,428.7 85.4,427.9 90.9,429.5 97.2,432.1 101.9,441.5 107.4,444.7 112.9,439.2 119.1,435.7 125.4,432.9 130.1,430.3 134.8,428.7 141.1,426.3 145.8,423.2 150.5,436.8 156.0,442.0 161.5,458.3 166.2,458.8 172.4,461.9 177.1,463.5 181.9,460.4 188.1,454.9 194.4,453.3 199.1,455.7 203.8,452.0 210.1,451.7 216.3,452.2 221.0,451.4 226.5,453.3 232.0,449.9 240.0,448.5 247.8,448.3 253.3,446.2 258.8,448.3 264.3,446.7 269.8,449.5 274.5,451.0 280.8,454.4 285.5,453.6 291.7,454.4 297.2,454.4 302.7,452.7 307.4,452.0 312.4,448.6 318.4,456.4 323.1,452.5 329.4,443.1 334.1,441.1 340.3,439.5 346.6,439.2 350.5,439.7 356.0,435.6 360.7,437.0 367.0,448.3 372.5,445.9 378.0,450.5 382.7,449.9 388.1,447.8 392.8,450.5 399.1,441.7 404.6,444.4 409.3,442.3 415.6,445.5 421.1,444.4 426.6,447.3 431.3,450.5 436.7,448.3 442.2,443.1 447.7,445.9 453.2,443.4 457.9,443.1 464.2,441.7 469.7,442.3 474.4,445.8 480.0,444.2 485.5,443.4 491.0,446.6 496.5,444.7 502.0,441.5 506.7,439.7 512.1,444.4 520.8,442.3 527.8,443.3 533.3,442.0 539.6,440.0 549.0,438.1 555.2,439.7 560.7,441.4 566.2,440.8 571.7,442.3 577.2,435.3 582.7,431.8 588.2,437.3 594.4,433.2 603.8,428.5 608.5,429.8 614.8,434.2 625.8,431.4 631.3,442.3 636.8,445.5 646.2,437.6 652.4,433.2 657.9,433.7 663.4,449.4 668.9,442.8 674.4,450.3 679.9,446.6 685.4,443.4 690.1,443.6 696.3,445.9 701.0,445.6 706.5,448.4 712.0,445.6 716.7,449.4 720.0,454.1 722.8,459.6 727.8,460.7 734.1,453.3 743.5,453.6 749.8,453.8 755.3,449.9 760.8,450.6 766.2,454.9 771.0,455.3 776.4,459.6 781.9,461.1 787.4,460.0 792.9,459.6 798.4,461.6 804.7,459.6 809.4,459.7 814.1,462.2 818.8,461.1 824.2,461.1 829.7,463.2 836.0,465.8 841.5,468.2 846.2,467.4 853.2,461.9 858.0,459.9 862.7,459.9 868.9,455.2 874.4,451.7 879.9,453.3 884.6,452.5 889.3,452.8 895.6,459.6 901.9,458.3 906.6,458.5 911.3,455.7 917.5,449.4 922.2,448.6 927.7,450.5 933.2,447.0 938.7,449.2 944.2,446.4 949.7,446.6 955.1,438.1 960.0,438.1 965.5,438.1 971.0,436.5 975.7,439.2 981.2,441.9 986.6,446.4 992.1,446.6 997.6,445.5 1003.1,445.8 1008.6,445.5 1014.1,448.3 1019.6,444.4 1025.1,449.1 1030.5,454.1 1036.0,449.1 1040.7,451.4 1046.2,449.9 1051.7,452.0 1057.2,454.6 1062.7,454.4 1068.2,451.0 1073.7,453.3 1079.1,454.1 1084.6,452.5 1090.1,450.5 1095.6,452.5 1100.3,450.6 1105.8,454.4 1111.3,450.9 1116.8,456.4 1122.3,453.3 1127.7,449.4 1133.2,448.9 1138.7,447.5 1143.4,446.7 1148.9,450.6 1154.4,445.5 1159.9,437.9 1164.6,437.6 1170.9,431.4 1176.3,432.1 1181.0,432.6 1186.5,440.1 1192.0,436.8 1197.5,427.9 1200.0,428.5 1207.8,425.1 1213.3,424.6 1218.8,425.6 1224.3,425.6 1229.8,424.6 1235.3,424.0 1240.8,422.3 1245.5,421.9 1250.9,423.5 1256.4,424.3 1261.9,426.2 1267.4,427.6 1272.9,426.7 1278.4,423.5 1283.1,421.2 1288.6,426.3 1294.1,425.9 1300.3,424.3 1309.7,424.3 1316.0,423.0 1321.5,422.3 1327.0,421.9 1332.5,421.9 1337.2,425.6 1342.7,424.8 1348.1,429.0 1353.6,427.7 1359.1,427.4 1364.6,428.5 1370.1,427.9 1374.8,425.4 1380.3,429.0 1386.5,435.3 1392.0,436.8 1396.7,436.8 1401.4,437.9 1403.8,439.7 1408.5,446.2 1413.2,444.7 1418.7,444.7 1424.2,435.3 1429.7,437.3" fill="none" stroke="#2040f8" stroke-width="1.1"/>
<polyline points="0.0,576.1 6.3,576.4 12.5,579.5 20.4,578.7 25.1,577.2 31.4,575.9 37.6,575.6 45.5,574.8 51.7,569.3 58.0,564.6 64.3,561.5 70.5,563.8 78.4,567.0 86.2,567.8 92.5,567.0 98.8,570.1 106.6,577.9 112.9,581.9 119.1,577.9 125.4,571.7 133.2,567.8 139.5,567.0 144.2,563.8 150.5,567.8 156.8,577.9 161.5,587.4 167.7,597.5 174.0,605.4 181.9,610.1 188.1,607.7 194.4,603.0 202.2,601.5 211.6,599.9 219.5,599.1 228.9,598.0 235.1,592.1 240.0,581.1 243.1,573.2 247.8,563.8 253.3,561.0 258.8,564.6 265.1,567.0 271.4,576.4 276.1,583.4 280.8,594.4 285.5,602.2 291.7,607.4 298.0,605.4 305.8,601.5 312.9,596.0 318.4,599.9 323.1,599.9 329.4,593.6 334.1,581.1 339.5,567.0 346.6,564.2 356.0,562.6 362.3,567.8 368.5,579.5 373.2,588.9 378.0,596.4 385.8,598.3 393.6,599.9 399.9,595.2 404.6,593.3 410.1,588.6 415.6,590.8 421.9,591.3 428.1,595.2 436.7,601.1 443.8,592.1 453.2,580.3 457.9,579.5 464.2,575.6 468.9,574.5 475.1,576.4 480.0,579.2 487.8,579.5 495.7,581.1 501.9,577.2 507.4,571.4 512.9,570.6 517.6,572.5 523.9,578.7 529.4,580.3 536.4,577.9 542.7,572.5 549.0,568.2 555.2,569.8 561.5,574.0 571.7,579.2 577.2,575.6 583.5,572.5 592.9,571.2 599.1,570.6 605.4,565.7 610.1,566.7 614.8,570.1 621.1,572.1 627.4,571.7 632.1,576.4 636.8,583.4 641.5,591.3 647.7,588.1 652.4,582.7 657.9,577.6 663.4,587.4 668.1,592.8 674.4,603.8 680.7,599.9 683.8,599.1 690.1,592.8 696.3,592.8 701.0,594.4 707.3,598.6 712.0,598.6 720.0,603.8 727.8,612.1 734.1,609.3 738.8,606.2 743.5,601.1 749.8,599.9 754.5,597.5 760.0,596.0 765.5,598.3 770.2,602.2 774.9,609.3 781.1,613.2 787.4,614.8 793.7,613.2 803.1,612.7 814.1,613.7 826.6,614.3 836.0,614.0 847.0,611.7 854.8,604.6 861.1,600.7 868.9,595.2 876.8,586.6 883.0,581.9 889.3,580.3 894.0,583.4 900.3,592.1 906.6,601.1 912.8,597.5 922.2,583.4 926.9,580.3 933.2,578.3 939.5,579.5 944.2,576.1 950.4,575.6 955.1,569.3 960.0,567.3 964.7,565.4 972.5,566.2 978.8,567.0 983.5,569.3 989.8,579.5 997.6,588.9 1005.5,589.7 1013.3,592.8 1019.6,593.3 1025.8,599.9 1035.2,609.3 1041.5,609.3 1046.2,606.5 1054.1,609.3 1061.9,611.7 1069.7,608.5 1077.6,607.0 1083.8,609.0 1091.7,606.5 1096.4,605.4 1101.1,602.2 1105.8,603.8 1110.5,600.2 1116.8,605.9 1126.2,602.2 1130.9,595.2 1137.1,585.0 1143.4,581.1 1149.7,583.4 1159.1,579.5 1166.9,568.5 1174.8,565.7 1179.5,566.2 1185.7,569.3 1192.0,572.9 1200.0,569.3 1207.8,562.0 1215.7,563.8 1223.5,566.2 1231.4,564.6 1239.2,562.6 1247.0,562.3 1254.9,563.8 1262.7,565.7 1270.5,568.5 1276.8,569.3 1283.1,566.2 1289.4,564.6 1297.2,565.7 1309.7,563.5 1320.7,563.5 1331.7,565.1 1339.5,569.3 1347.4,569.8 1355.2,566.2 1363.0,564.6 1372.4,563.8 1380.3,564.6 1388.1,567.8 1396.0,569.8 1403.8,570.9 1411.6,574.0 1419.5,576.4 1428.9,580.3" fill="none" stroke="#ff8c1a" stroke-width="1.1"/>
<polyline points="0.0,581.9 6.3,577.9 12.5,577.9 20.4,579.5 28.2,577.9 36.1,576.4 45.5,574.8 51.7,572.5 58.0,567.8 64.3,563.8 72.1,563.1 80.0,565.4 87.8,568.5 94.1,567.8 101.9,571.7 109.7,576.4 117.6,579.5 125.4,576.4 133.2,570.9 139.5,567.8 145.8,566.2 152.1,567.3 156.8,571.7 163.0,583.4 169.4,594.4 175.7,603.0 183.4,609.3 191.3,606.9 199.1,603.8 206.9,601.8 216.3,600.7 225.7,599.9 232.0,599.1 240.0,589.7 244.7,581.1 249.4,571.7 254.1,565.4 258.8,563.5 263.5,564.3 268.2,567.8 274.5,573.2 280.8,584.2 287.0,595.2 293.3,603.0 299.6,605.9 305.8,603.8 313.7,599.6 321.5,598.3 328.6,598.0 334.1,592.1 340.3,581.1 346.6,570.1 352.9,563.8 357.6,563.1 363.8,566.2 370.1,575.6 376.4,585.8 382.7,593.6 390.5,598.0 396.8,598.6 404.6,596.8 410.9,592.1 418.7,590.5 425.0,592.1 432.8,595.2 439.1,598.3 443.8,597.5 450.1,591.3 456.4,584.2 464.2,578.3 473.6,575.6 480.0,576.7 487.8,578.4 495.7,579.8 501.9,580.3 508.2,576.4 516.1,571.7 522.3,574.5 530.2,578.7 538.0,578.7 545.8,573.6 552.1,570.1 556.8,569.3 564.7,572.5 572.5,576.4 580.3,576.4 589.7,572.9 599.1,570.9 605.4,568.5 611.7,567.3 616.4,568.2 622.7,570.4 628.9,572.0 635.2,576.4 641.5,583.4 647.7,588.1 652.4,587.4 658.7,582.7 663.4,582.7 669.7,586.6 674.4,594.4 679.1,599.1 683.8,601.1 690.1,596.8 696.3,594.1 701.0,593.3 707.3,596.0 713.6,598.3 720.0,601.8 724.7,604.6 732.5,609.0 738.8,609.6 745.1,604.6 751.4,601.5 757.6,598.3 765.5,597.5 771.7,600.7 778.0,606.2 787.4,613.2 798.4,613.5 810.9,613.2 823.5,614.0 836.0,614.3 845.4,613.2 854.8,608.5 862.7,603.8 870.5,598.0 878.3,590.5 884.6,585.0 890.9,581.9 897.1,584.2 905.0,592.8 911.3,597.5 917.5,596.0 923.8,588.9 931.6,581.4 939.5,578.7 948.9,577.2 955.1,573.2 960.0,570.9 966.3,567.0 975.7,566.2 983.5,568.5 991.4,577.9 999.2,585.8 1007.0,589.2 1018.0,591.7 1022.7,593.6 1029.0,598.3 1035.2,603.8 1041.5,608.0 1050.9,608.5 1057.2,609.3 1063.4,610.9 1072.9,609.3 1080.7,607.7 1088.5,607.7 1094.8,606.2 1101.1,604.6 1110.5,602.2 1118.3,603.3 1127.7,603.3 1135.6,594.4 1143.4,585.8 1149.7,583.0 1159.1,582.3 1166.9,576.4 1174.8,568.5 1181.0,566.7 1187.3,568.5 1193.6,570.9 1200.0,571.2 1206.3,567.0 1214.1,563.1 1220.4,563.5 1228.2,565.1 1236.1,565.1 1243.9,563.1 1250.2,562.6 1258.0,563.8 1265.8,566.2 1273.7,568.2 1279.9,568.2 1287.8,566.7 1294.1,565.4 1303.5,565.1 1312.9,564.6 1322.3,564.2 1331.7,564.9 1339.5,567.3 1348.9,569.3 1356.8,567.0 1366.2,565.1 1375.6,564.2 1385.0,564.6 1392.8,567.0 1402.2,569.8 1408.5,571.4 1419.5,574.5 1428.9,577.9" fill="none" stroke="#2040f8" stroke-width="1.1"/>
</g>
<g shape-rendering="crispEdges">
<rect x="0" y="0" width="1" height="396" fill="#d0d8e8"/>
<rect x="1460" y="0" width="1" height="396" fill="#d0d8e8"/>
<rect x="0" y="395" width="1461" height="1" fill="#d0d8e8"/>
<rect x="0" y="404" width="1" height="82" fill="#d0d8e8"/>
<rect x="1460" y="404" width="1" height="82" fill="#d0d8e8"/>
<rect x="0" y="485" width="1461" height="1" fill="#d0d8e8"/>
<rect x="0" y="404" width="1461" height="1" fill="#d0d8e8"/>
<rect x="0" y="494" width="1" height="55" fill="#d0d8e8"/>
<rect x="1460" y="494" width="1" height="55" fill="#d0d8e8"/>
<rect x="0" y="548" width="1461" height="1" fill="#d0d8e8"/>
<rect x="0" y="494" width="1461" height="1" fill="#d0d8e8"/>
<rect x="0" y="557" width="1" height="61" fill="#d0d8e8"/>
<rect x="1460" y="557" width="1" height="61" fill="#d0d8e8"/>
<rect x="0" y="617" width="1461" height="1" fill="#d0d8e8"/>
<rect x="0" y="557" width="1461" height="1" fill="#d0d8e8"/>
<rect x="0" y="0" width="1461" height="1" fill="#8f8f8f"/>
<rect x="1" y="1" width="1459" height="1" fill="#fefefe"/>
<rect x="0" y="406" width="1" height="24" fill="#111"/>
<rect x="0" y="460" width="1" height="25" fill="#111"/>
<rect x="0" y="559" width="1" height="12" fill="#111"/>
<rect x="0" y="604" width="1" height="13" fill="#111"/>
<rect x="0" y="115" width="1" height="16" fill="#000"/>
<rect x="720" y="398" width="20" height="1" fill="#666"/>
<rect x="720" y="400" width="20" height="1" fill="#666"/>
<rect x="720" y="402" width="20" height="1" fill="#666"/>
<rect x="720" y="488" width="20" height="1" fill="#666"/>
<rect x="720" y="490" width="20" height="1" fill="#666"/>
<rect x="720" y="492" width="20" height="1" fill="#666"/>
<rect x="720" y="551" width="20" height="1" fill="#666"/>
<rect x="720" y="553" width="20" height="1" fill="#666"/>
<rect x="720" y="555" width="20" height="1" fill="#666"/>
</g>
<g shape-rendering="crispEdges">
<rect x="0" y="618" width="1" height="2" fill="#333"/>
<rect x="75" y="618" width="1" height="2" fill="#333"/>
<rect x="113" y="618" width="1" height="2" fill="#333"/>
<rect x="150" y="618" width="1" height="2" fill="#333"/>
<rect x="188" y="618" width="1" height="2" fill="#333"/>
<rect x="237" y="618" width="1" height="2" fill="#333"/>
<rect x="274" y="618" width="1" height="2" fill="#333"/>
<rect x="312" y="618" width="1" height="2" fill="#333"/>
<rect x="350" y="618" width="1" height="2" fill="#333"/>
<rect x="388" y="618" width="1" height="2" fill="#333"/>
<rect x="426" y="618" width="1" height="2" fill="#333"/>
<rect x="463" y="618" width="1" height="2" fill="#333"/>
<rect x="496" y="618" width="1" height="2" fill="#333"/>
<rect x="534" y="618" width="1" height="2" fill="#333"/>
<rect x="571" y="618" width="1" height="2" fill="#333"/>
<rect x="609" y="618" width="1" height="2" fill="#333"/>
<rect x="646" y="618" width="1" height="2" fill="#333"/>
<rect x="684" y="618" width="1" height="2" fill="#333"/>
<rect x="722" y="618" width="1" height="2" fill="#333"/>
<rect x="755" y="618" width="1" height="2" fill="#333"/>
<rect x="792" y="618" width="1" height="2" fill="#333"/>
<rect x="830" y="618" width="1" height="2" fill="#333"/>
<rect x="868" y="618" width="1" height="2" fill="#333"/>
<rect x="906" y="618" width="1" height="2" fill="#333"/>
<rect x="943" y="618" width="1" height="2" fill="#333"/>
<rect x="981" y="618" width="1" height="2" fill="#333"/>
<rect x="1013" y="618" width="1" height="2" fill="#333"/>
<rect x="1051" y="618" width="1" height="2" fill="#333"/>
<rect x="1089" y="618" width="1" height="2" fill="#333"/>
<rect x="1127" y="618" width="1" height="2" fill="#333"/>
<rect x="1164" y="618" width="1" height="2" fill="#333"/>
<rect x="1202" y="618" width="1" height="2" fill="#333"/>
<rect x="1240" y="618" width="1" height="2" fill="#333"/>
<rect x="1272" y="618" width="1" height="2" fill="#333"/>
<rect x="1305" y="618" width="1" height="2" fill="#333"/>
<rect x="1337" y="618" width="1" height="2" fill="#333"/>
<rect x="1369" y="618" width="1" height="2" fill="#333"/>
<rect x="1402" y="618" width="1" height="2" fill="#333"/>
</g>
<text x="75.5" y="634" font-size="11" fill="#666" text-anchor="middle">09:00</text>
<text x="113.1" y="634" font-size="11" fill="#666" text-anchor="middle">12:30</text>
<text x="151" y="634" font-size="11" fill="#666" text-anchor="middle">16:00</text>
<text x="188.6" y="634" font-size="11" fill="#666" text-anchor="middle">19:30</text>
<text x="237.2" y="634" font-size="11" fill="#666" text-anchor="middle">Thu</text>
<text x="275" y="634" font-size="11" fill="#666" text-anchor="middle">03:30</text>
<text x="312.7" y="634" font-size="11" fill="#666" text-anchor="middle">07:00</text>
<text x="350.6" y="634" font-size="11" fill="#666" text-anchor="middle">10:30</text>
<text x="388.4" y="634" font-size="11" fill="#666" text-anchor="middle">14:00</text>
<text x="426.2" y="634" font-size="11" fill="#666" text-anchor="middle">17:30</text>
<text x="463.9" y="634" font-size="11" fill="#666" text-anchor="middle">21:00</text>
<text x="496.5" y="634" font-size="11" fill="#666" text-anchor="middle">Fri</text>
<text x="534.1" y="634" font-size="11" fill="#666" text-anchor="middle">03:30</text>
<text x="571.8" y="634" font-size="11" fill="#666" text-anchor="middle">07:00</text>
<text x="609.4" y="634" font-size="11" fill="#666" text-anchor="middle">10:30</text>
<text x="647" y="634" font-size="11" fill="#666" text-anchor="middle">14:00</text>
<text x="684.9" y="634" font-size="11" fill="#666" text-anchor="middle">17:30</text>
<text x="722.5" y="634" font-size="11" fill="#666" text-anchor="middle">Sun</text>
<text x="755.4" y="634" font-size="11" fill="#666" text-anchor="middle">Mon</text>
<text x="792.7" y="634" font-size="11" fill="#666" text-anchor="middle">03:30</text>
<text x="830.5" y="634" font-size="11" fill="#666" text-anchor="middle">07:00</text>
<text x="868.4" y="634" font-size="11" fill="#666" text-anchor="middle">10:30</text>
<text x="906" y="634" font-size="11" fill="#666" text-anchor="middle">14:00</text>
<text x="943.7" y="634" font-size="11" fill="#666" text-anchor="middle">17:30</text>
<text x="981.5" y="634" font-size="11" fill="#666" text-anchor="middle">21:00</text>
<text x="1013.9" y="634" font-size="11" fill="#666" text-anchor="middle">Tue</text>
<text x="1051.6" y="634" font-size="11" fill="#666" text-anchor="middle">03:30</text>
<text x="1089.5" y="634" font-size="11" fill="#666" text-anchor="middle">07:00</text>
<text x="1127.3" y="634" font-size="11" fill="#666" text-anchor="middle">10:30</text>
<text x="1165" y="634" font-size="11" fill="#666" text-anchor="middle">14:00</text>
<text x="1202.8" y="634" font-size="11" fill="#666" text-anchor="middle">17:30</text>
<text x="1240.4" y="634" font-size="11" fill="#666" text-anchor="middle">21:00</text>
<text x="1273" y="634" font-size="11" fill="#666" text-anchor="middle">Wed</text>
<text x="1305.4" y="634" font-size="11" fill="#666" text-anchor="middle">03:00</text>
<text x="1337.3" y="634" font-size="11" fill="#666" text-anchor="middle">06:00</text>
<text x="1369.6" y="634" font-size="11" fill="#666" text-anchor="middle">09:00</text>
<text x="1402" y="634" font-size="11" fill="#666" text-anchor="middle">12:00</text>
<text x="0" y="634" font-size="11" fill="#666">Wed</text>
<g shape-rendering="auto"><path d="M16 349.5H27V353.0H20.2V359.0H25.5V362.5H20.2V375H16Z" fill="#8e9099"/><path d="M28.4 349.5H32.6L34.3 357.5L36 349.5H40.2L36.4 362.0L40.2 375H36L34.3 366.5L32.6 375H28.4L32.2 362.0Z" fill="#8e9099"/><path d="M53.5 355.7H49.7V353.7C49.7 352.9 49.2 352.5 48.4 352.5H47.4C46.6 352.5 46.1 353.0 46.1 353.8V357.0C46.1 358.0 46.6 358.5 47.5 359.1L51.8 361.5C53.2 362.4 53.9 363.5 53.9 365.5V370.0C53.9 373.0 52.3 375 49.4 375H46.2C43.3 375 41.7 373.0 41.7 370.0V367.5H45.6V370.1C45.6 371.0 46.1 371.5 46.9 371.5H48.7C49.5 371.5 50 371.0 50 370.1V366.3C50 365.3 49.5 364.8 48.6 364.3L44.3 361.8C42.8 360.9 42.2 359.8 42.2 358.0V354.0C42.2 351.0 43.8 349.5 46.7 349.5H49C51.9 349.5 53.5 351.0 53.5 354.0Z" fill="#f0be86"/><path d="M55.3 349.5H67.8V353.0H63.65V375H59.449999999999996V353.0H55.3Z" fill="#f0be86"/><path d="M69.3 349.5H77.2C80.2 349.5 81.9 351.2 81.9 354.2V358.3C81.9 360.5 81 361.9 79.4 362.5L82 375H77.8L75.6 363.0H73.5V375H69.3ZM73.5 353.0V359.7H76.5C77.3 359.7 77.8 359.2 77.8 358.4V354.3C77.8 353.5 77.3 353.0 76.5 353.0Z" fill="#f0be86" fill-rule="evenodd"/><path d="M84.1 349.5H96V353.0H88.3V360.3H94.5V363.7H88.3V371.5H96V375H84.1Z" fill="#f0be86"/><path d="M97.9 349.5H110.2V353.0H102.10000000000001V360.3H108.7V363.7H102.10000000000001V371.5H110.2V375H97.9Z" fill="#f0be86"/><path d="M112 349.5H124.4V353.0H120.3V375H116.10000000000001V353.0H112Z" fill="#f0be86"/></g>
<rect x="1" y="375" width="1459" height="2" fill="#1a7a00" shape-rendering="crispEdges"/>
<rect x="5" y="5" width="79" height="21" fill="rgba(0,0,0,0.6)" shape-rendering="crispEdges"/><rect x="5" y="5" width="2" height="21" fill="#1a7a00" shape-rendering="crispEdges"/><text x="16" y="18.9" font-size="11" font-weight="bold" fill="#fff">USD/CAD</text>
<rect x="5" y="32" width="84" height="21" fill="rgba(0,0,0,0.6)" shape-rendering="crispEdges"/><rect x="5" y="32" width="2" height="21" fill="#ff0000" shape-rendering="crispEdges"/><text x="16" y="45.9" font-size="11" font-weight="bold" fill="#fff">SMA (50,0)</text>
<rect x="5" y="59" width="90" height="21" fill="rgba(0,0,0,0.6)" shape-rendering="crispEdges"/><rect x="5" y="59" width="2" height="21" fill="#1a5cc0" shape-rendering="crispEdges"/><text x="16" y="72.9" font-size="11" font-weight="bold" fill="#fff">SMA (100,0)</text>
<rect x="5" y="86" width="90" height="21" fill="rgba(0,0,0,0.6)" shape-rendering="crispEdges"/><rect x="5" y="86" width="2" height="21" fill="#ff00ff" shape-rendering="crispEdges"/><text x="16" y="99.9" font-size="11" font-weight="bold" fill="#fff">SMA (200,0)</text>
<rect x="5" y="409" width="110" height="21" fill="rgba(0,0,0,0.6)" shape-rendering="crispEdges"/><rect x="5" y="409" width="2" height="21" fill="#0a1aff" shape-rendering="crispEdges"/><text x="16" y="422.9" font-size="11" font-weight="bold" fill="#fff">RSI (14,70,30,1)</text>
<rect x="5" y="499" width="109" height="21" fill="rgba(0,0,0,0.6)" shape-rendering="crispEdges"/><rect x="5" y="499" width="2" height="21" fill="#0a1aff" shape-rendering="crispEdges"/><text x="16" y="512.9" font-size="11" font-weight="bold" fill="#fff">MACD (12,26,9)</text>
<rect x="5" y="562" width="138" height="21" fill="rgba(0,0,0,0.6)" shape-rendering="crispEdges"/><rect x="5" y="562" width="2" height="21" fill="#ff8c00" shape-rendering="crispEdges"/><text x="16" y="575.9" font-size="11" font-weight="bold" fill="#fff">FUSTO (14,3,3,80,20)</text>
<path d="M1461.5 153 L1464.5 150.5 L1464.5 146 Q1464.5 145 1465.5 145 L1512.5 145 Q1513.5 145 1513.5 146 L1513.5 160 Q1513.5 161 1512.5 161 L1465.5 161 Q1464.5 161 1464.5 160 L1464.5 155.5 Z" fill="#2d4a73"/>
<text x="1469.3" y="158" font-size="11" font-weight="bold" fill="#fff">1.32855</text>
</svg></body></html>
